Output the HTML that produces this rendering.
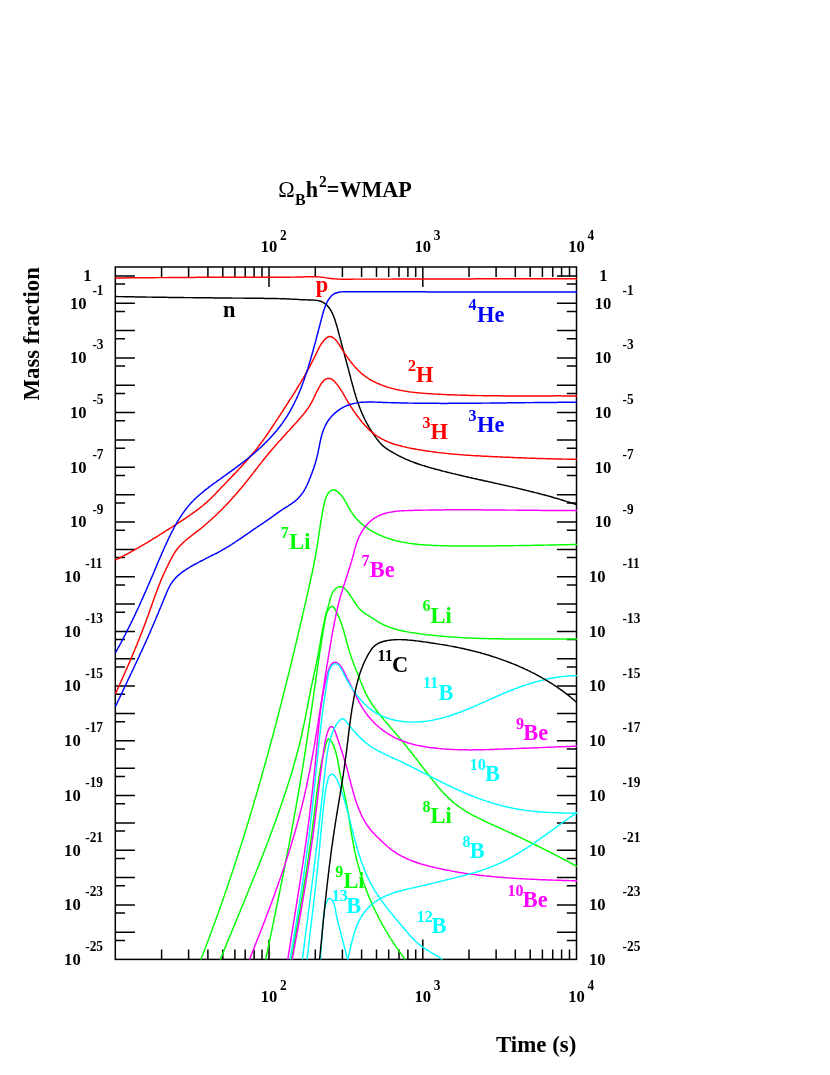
<!DOCTYPE html>
<html><head><meta charset="utf-8"><title>BBN</title>
<style>
html,body{margin:0;padding:0;background:#fff}
svg{display:block;will-change:transform}
text{font-family:"Liberation Serif",serif;font-weight:bold}
.c{fill:none;stroke-width:1.45;stroke-linejoin:round;stroke-linecap:butt}
.a{stroke:#000;stroke-width:1.5;fill:none;stroke-linecap:butt}
.l{font-size:22.4px}
.s{font-size:14.5px}
.t{font-size:16.4px}
.e{font-size:12.8px}
</style></head><body>
<svg width="830" height="1075" viewBox="0 0 830 1075">
<rect width="830" height="1075" fill="#fff"/>
<defs><clipPath id="cp"><rect x="114.55" y="266.25" width="462.7" height="693.9"/></clipPath></defs>
<path class="a" d="M161.6,267.0v10M161.6,959.4v-10M188.6,267.0v10M188.6,959.4v-10M207.9,267.0v10M207.9,959.4v-10M222.8,267.0v10M222.8,959.4v-10M234.9,267.0v10M234.9,959.4v-10M245.2,267.0v10M245.2,959.4v-10M254.1,267.0v10M254.1,959.4v-10M262.0,267.0v10M262.0,959.4v-10M269.0,267.0v20M269.0,959.4v-20M315.3,267.0v10M315.3,959.4v-10M342.4,267.0v10M342.4,959.4v-10M361.6,267.0v10M361.6,959.4v-10M376.5,267.0v10M376.5,959.4v-10M388.7,267.0v10M388.7,959.4v-10M399.0,267.0v10M399.0,959.4v-10M407.9,267.0v10M407.9,959.4v-10M415.7,267.0v10M415.7,959.4v-10M422.8,267.0v20M422.8,959.4v-20M469.0,267.0v10M469.0,959.4v-10M496.1,267.0v10M496.1,959.4v-10M515.3,267.0v10M515.3,959.4v-10M530.2,267.0v10M530.2,959.4v-10M542.4,267.0v10M542.4,959.4v-10M552.7,267.0v10M552.7,959.4v-10M561.6,267.0v10M561.6,959.4v-10M569.5,267.0v10M569.5,959.4v-10M115.3,275.9h19.6M576.5,275.9h-19.6M115.3,284.1h9.7M576.5,284.1h-9.7M115.3,303.2h19.6M576.5,303.2h-19.6M115.3,311.4h9.7M576.5,311.4h-9.7M115.3,330.6h19.6M576.5,330.6h-19.6M115.3,338.8h9.7M576.5,338.8h-9.7M115.3,357.9h19.6M576.5,357.9h-19.6M115.3,366.1h9.7M576.5,366.1h-9.7M115.3,385.2h19.6M576.5,385.2h-19.6M115.3,393.5h9.7M576.5,393.5h-9.7M115.3,412.6h19.6M576.5,412.6h-19.6M115.3,420.8h9.7M576.5,420.8h-9.7M115.3,440.0h19.6M576.5,440.0h-19.6M115.3,448.2h9.7M576.5,448.2h-9.7M115.3,467.3h19.6M576.5,467.3h-19.6M115.3,475.5h9.7M576.5,475.5h-9.7M115.3,494.7h19.6M576.5,494.7h-19.6M115.3,502.9h9.7M576.5,502.9h-9.7M115.3,522.0h19.6M576.5,522.0h-19.6M115.3,530.2h9.7M576.5,530.2h-9.7M115.3,549.4h19.6M576.5,549.4h-19.6M115.3,557.6h9.7M576.5,557.6h-9.7M115.3,576.7h19.6M576.5,576.7h-19.6M115.3,584.9h9.7M576.5,584.9h-9.7M115.3,604.1h19.6M576.5,604.1h-19.6M115.3,612.3h9.7M576.5,612.3h-9.7M115.3,631.4h19.6M576.5,631.4h-19.6M115.3,639.6h9.7M576.5,639.6h-9.7M115.3,658.8h19.6M576.5,658.8h-19.6M115.3,667.0h9.7M576.5,667.0h-9.7M115.3,686.1h19.6M576.5,686.1h-19.6M115.3,694.3h9.7M576.5,694.3h-9.7M115.3,713.5h19.6M576.5,713.5h-19.6M115.3,721.7h9.7M576.5,721.7h-9.7M115.3,740.8h19.6M576.5,740.8h-19.6M115.3,749.0h9.7M576.5,749.0h-9.7M115.3,768.2h19.6M576.5,768.2h-19.6M115.3,776.4h9.7M576.5,776.4h-9.7M115.3,795.5h19.6M576.5,795.5h-19.6M115.3,803.7h9.7M576.5,803.7h-9.7M115.3,822.9h19.6M576.5,822.9h-19.6M115.3,831.1h9.7M576.5,831.1h-9.7M115.3,850.2h19.6M576.5,850.2h-19.6M115.3,858.4h9.7M576.5,858.4h-9.7M115.3,877.6h19.6M576.5,877.6h-19.6M115.3,885.8h9.7M576.5,885.8h-9.7M115.3,904.9h19.6M576.5,904.9h-19.6M115.3,913.1h9.7M576.5,913.1h-9.7M115.3,932.3h19.6M576.5,932.3h-19.6M115.3,940.5h9.7M576.5,940.5h-9.7"/>
<rect class="a" x="115.3" y="267.0" width="461.2" height="692.4"/>
<g clip-path="url(#cp)">
<path class="c" stroke="#ff0000" d="M115.3,277.9 L116.8,277.9 L118.3,277.9 L119.8,277.9 L121.3,277.9 L122.8,277.9 L124.4,277.9 L125.9,277.9 L127.4,277.8 L128.9,277.8 L130.4,277.8 L131.9,277.8 L133.4,277.8 L134.9,277.8 L136.4,277.8 L137.9,277.8 L139.5,277.8 L141.0,277.8 L142.5,277.8 L144.0,277.7 L145.5,277.7 L147.0,277.7 L148.5,277.7 L150.0,277.7 L151.5,277.7 L153.0,277.7 L154.5,277.7 L156.1,277.6 L157.6,277.6 L159.1,277.6 L160.6,277.6 L162.1,277.6 L163.6,277.6 L165.1,277.6 L166.6,277.6 L168.1,277.5 L169.6,277.5 L171.1,277.5 L172.7,277.5 L174.2,277.5 L175.7,277.5 L177.2,277.5 L178.7,277.5 L180.2,277.5 L181.7,277.4 L183.2,277.4 L184.7,277.4 L186.2,277.4 L187.8,277.4 L189.3,277.4 L190.8,277.4 L192.3,277.4 L193.8,277.4 L195.3,277.4 L196.8,277.3 L198.3,277.3 L199.8,277.3 L201.3,277.3 L202.8,277.3 L204.4,277.3 L205.9,277.3 L207.4,277.3 L208.9,277.3 L210.4,277.3 L211.9,277.3 L213.4,277.3 L214.9,277.3 L216.4,277.3 L217.9,277.3 L219.4,277.3 L221.0,277.3 L222.5,277.3 L224.0,277.3 L225.5,277.3 L227.0,277.3 L228.5,277.3 L230.0,277.3 L231.5,277.3 L233.0,277.3 L234.5,277.3 L236.1,277.3 L237.6,277.3 L239.1,277.3 L240.6,277.3 L242.1,277.3 L243.6,277.3 L245.1,277.3 L246.6,277.3 L248.1,277.3 L249.6,277.3 L251.1,277.3 L252.7,277.3 L254.2,277.3 L255.7,277.3 L257.2,277.3 L258.7,277.3 L260.2,277.3 L261.7,277.3 L263.2,277.3 L264.7,277.3 L266.2,277.3 L267.7,277.3 L269.3,277.3 L270.8,277.3 L272.3,277.3 L273.8,277.3 L275.3,277.3 L276.8,277.3 L278.3,277.3 L279.8,277.2 L281.3,277.2 L282.8,277.2 L284.4,277.2 L285.9,277.2 L287.4,277.2 L288.9,277.2 L290.4,277.1 L291.9,277.1 L293.4,277.1 L294.9,277.1 L296.4,277.0 L297.9,277.0 L299.4,277.0 L301.0,276.9 L302.5,276.9 L304.0,276.9 L305.5,276.8 L307.0,276.8 L308.5,276.7 L310.0,276.7 L311.5,276.7 L313.0,276.7 L314.5,276.7 L316.0,276.7 L317.5,276.8 L319.0,276.9 L320.5,277.1 L322.0,277.2 L323.5,277.4 L325.0,277.6 L326.5,277.9 L328.0,278.1 L329.5,278.3 L331.0,278.5 L332.5,278.7 L334.0,278.8 L335.5,278.9 L337.0,279.0 L338.5,279.1 L340.0,279.1 L341.5,279.2 L343.0,279.2 L344.5,279.2 L346.1,279.2 L347.6,279.2 L349.1,279.2 L350.6,279.2 L352.1,279.2 L353.6,279.1 L355.1,279.1 L356.6,279.1 L358.1,279.1 L359.6,279.1 L361.2,279.1 L362.7,279.1 L364.2,279.1 L365.7,279.1 L367.2,279.1 L368.7,279.1 L370.2,279.1 L371.7,279.1 L373.2,279.1 L374.7,279.1 L376.2,279.1 L377.8,279.1 L379.3,279.1 L380.8,279.1 L382.3,279.1 L383.8,279.1 L385.3,279.1 L386.8,279.1 L388.3,279.1 L389.8,279.1 L391.3,279.1 L392.9,279.0 L394.4,279.0 L395.9,279.0 L397.4,279.0 L398.9,279.0 L400.4,279.0 L401.9,279.0 L403.4,279.0 L404.9,279.0 L406.4,279.0 L407.9,279.0 L409.5,279.0 L411.0,279.0 L412.5,279.0 L414.0,279.0 L415.5,279.0 L417.0,279.0 L418.5,279.0 L420.0,279.0 L421.5,279.0 L423.0,279.0 L424.5,279.0 L426.1,279.0 L427.6,279.0 L429.1,278.9 L430.6,278.9 L432.1,278.9 L433.6,278.9 L435.1,278.9 L436.6,278.9 L438.1,278.9 L439.6,278.9 L441.2,278.9 L442.7,278.9 L444.2,278.9 L445.7,278.9 L447.2,278.9 L448.7,278.9 L450.2,278.9 L451.7,278.9 L453.2,278.9 L454.7,278.9 L456.2,278.9 L457.8,278.9 L459.3,278.9 L460.8,278.9 L462.3,278.9 L463.8,278.9 L465.3,278.9 L466.8,278.9 L468.3,278.9 L469.8,278.9 L471.3,278.9 L472.9,278.9 L474.4,278.8 L475.9,278.8 L477.4,278.8 L478.9,278.8 L480.4,278.8 L481.9,278.8 L483.4,278.8 L484.9,278.8 L486.4,278.8 L487.9,278.8 L489.5,278.8 L491.0,278.8 L492.5,278.8 L494.0,278.8 L495.5,278.8 L497.0,278.8 L498.5,278.8 L500.0,278.8 L501.5,278.8 L503.0,278.8 L504.5,278.8 L506.1,278.8 L507.6,278.8 L509.1,278.8 L510.6,278.8 L512.1,278.8 L513.6,278.8 L515.1,278.8 L516.6,278.8 L518.1,278.8 L519.6,278.8 L521.2,278.8 L522.7,278.8 L524.2,278.8 L525.7,278.8 L527.2,278.8 L528.7,278.8 L530.2,278.8 L531.7,278.8 L533.2,278.8 L534.7,278.8 L536.2,278.8 L537.8,278.8 L539.3,278.8 L540.8,278.8 L542.3,278.8 L543.8,278.8 L545.3,278.8 L546.8,278.8 L548.3,278.7 L549.8,278.7 L551.3,278.7 L552.8,278.7 L554.4,278.7 L555.9,278.7 L557.4,278.7 L558.9,278.7 L560.4,278.7 L561.9,278.7 L563.4,278.7 L564.9,278.7 L566.4,278.7 L567.9,278.7 L569.5,278.7 L571.0,278.7 L572.5,278.7 L574.0,278.7 L575.5,278.7 L577.0,278.7"/>
<path class="c" stroke="#000000" d="M115.3,296.5 L116.8,296.5 L118.3,296.6 L119.8,296.6 L121.3,296.6 L122.8,296.6 L124.3,296.7 L125.8,296.7 L127.3,296.7 L128.8,296.8 L130.3,296.8 L131.8,296.8 L133.4,296.8 L134.9,296.9 L136.4,296.9 L137.9,296.9 L139.4,296.9 L140.9,297.0 L142.4,297.0 L143.9,297.0 L145.4,297.0 L146.9,297.1 L148.4,297.1 L149.9,297.1 L151.4,297.1 L152.9,297.2 L154.4,297.2 L155.9,297.2 L157.4,297.2 L158.9,297.2 L160.4,297.3 L161.9,297.3 L163.4,297.3 L164.9,297.3 L166.4,297.3 L167.9,297.4 L169.4,297.4 L171.0,297.4 L172.5,297.4 L174.0,297.4 L175.5,297.5 L177.0,297.5 L178.5,297.5 L180.0,297.5 L181.5,297.5 L183.0,297.5 L184.5,297.6 L186.0,297.6 L187.5,297.6 L189.0,297.6 L190.5,297.6 L192.0,297.6 L193.5,297.7 L195.0,297.7 L196.5,297.7 L198.0,297.7 L199.5,297.7 L201.0,297.7 L202.5,297.8 L204.0,297.8 L205.5,297.8 L207.0,297.8 L208.5,297.8 L210.1,297.8 L211.6,297.8 L213.1,297.9 L214.6,297.9 L216.1,297.9 L217.6,297.9 L219.1,297.9 L220.6,297.9 L222.1,298.0 L223.6,298.0 L225.1,298.0 L226.6,298.0 L228.1,298.0 L229.6,298.0 L231.1,298.0 L232.6,298.1 L234.1,298.1 L235.6,298.1 L237.1,298.1 L238.6,298.1 L240.1,298.1 L241.6,298.1 L243.1,298.1 L244.7,298.2 L246.2,298.2 L247.7,298.2 L249.2,298.2 L250.7,298.2 L252.2,298.2 L253.7,298.2 L255.2,298.3 L256.7,298.3 L258.2,298.3 L259.7,298.3 L261.2,298.3 L262.7,298.3 L264.2,298.4 L265.7,298.4 L267.2,298.4 L268.7,298.4 L270.2,298.4 L271.7,298.5 L273.2,298.5 L274.7,298.5 L276.2,298.5 L277.8,298.6 L279.3,298.6 L280.8,298.7 L282.3,298.7 L283.8,298.8 L285.3,298.8 L286.8,298.9 L288.3,298.9 L289.8,299.0 L291.3,299.1 L292.8,299.2 L294.2,299.3 L295.7,299.3 L297.2,299.4 L298.7,299.5 L300.2,299.6 L301.7,299.7 L303.3,299.8 L304.8,299.8 L306.3,299.9 L307.8,300.0 L309.3,300.0 L310.9,300.0 L312.4,300.0 L313.9,300.1 L315.4,300.2 L316.9,300.4 L318.4,300.6 L319.8,301.0 L321.2,301.5 L322.5,302.1 L323.8,302.9 L325.0,303.7 L326.2,304.6 L327.2,305.6 L328.2,306.7 L329.1,307.8 L330.0,309.0 L330.8,310.3 L331.5,311.6 L332.2,312.9 L332.8,314.3 L333.4,315.7 L334.0,317.2 L334.5,318.6 L335.0,320.1 L335.5,321.6 L335.9,323.0 L336.4,324.5 L336.8,325.9 L337.2,327.4 L337.6,328.8 L338.0,330.3 L338.4,331.7 L338.8,333.2 L339.2,334.6 L339.5,336.0 L339.9,337.5 L340.3,338.9 L340.7,340.4 L341.1,341.8 L341.4,343.3 L341.8,344.7 L342.2,346.2 L342.6,347.6 L343.0,349.1 L343.4,350.5 L343.8,352.0 L344.2,353.4 L344.5,354.9 L344.9,356.3 L345.3,357.8 L345.7,359.2 L346.1,360.7 L346.5,362.1 L346.9,363.6 L347.3,365.1 L347.7,366.5 L348.1,368.0 L348.5,369.4 L348.8,370.9 L349.2,372.3 L349.6,373.8 L350.0,375.3 L350.4,376.7 L350.7,378.2 L351.1,379.6 L351.5,381.1 L351.9,382.5 L352.3,384.0 L352.7,385.5 L353.1,386.9 L353.5,388.4 L353.9,389.8 L354.3,391.2 L354.7,392.7 L355.1,394.1 L355.6,395.6 L356.0,397.0 L356.5,398.4 L356.9,399.9 L357.4,401.3 L357.9,402.7 L358.4,404.1 L358.9,405.5 L359.4,406.9 L360.0,408.3 L360.5,409.7 L361.1,411.1 L361.7,412.5 L362.3,413.9 L362.9,415.2 L363.5,416.6 L364.2,418.0 L364.8,419.3 L365.5,420.7 L366.2,422.0 L366.9,423.3 L367.6,424.7 L368.4,426.0 L369.1,427.3 L369.9,428.6 L370.7,429.8 L371.5,431.1 L372.3,432.4 L373.1,433.6 L374.0,434.9 L374.8,436.1 L375.7,437.4 L376.6,438.6 L377.5,439.8 L378.5,441.0 L379.4,442.1 L380.4,443.3 L381.4,444.4 L382.5,445.4 L383.6,446.4 L384.7,447.3 L385.9,448.2 L387.2,449.1 L388.4,449.9 L389.7,450.7 L391.0,451.5 L392.3,452.2 L393.6,453.0 L394.9,453.7 L396.2,454.4 L397.6,455.1 L398.9,455.8 L400.3,456.5 L401.6,457.2 L403.0,457.8 L404.4,458.5 L405.7,459.1 L407.1,459.7 L408.5,460.3 L409.9,460.8 L411.3,461.4 L412.7,461.9 L414.1,462.5 L415.5,463.0 L416.9,463.5 L418.3,464.0 L419.8,464.5 L421.2,464.9 L422.6,465.4 L424.1,465.8 L425.5,466.3 L426.9,466.7 L428.4,467.1 L429.8,467.6 L431.3,468.0 L432.7,468.4 L434.2,468.8 L435.6,469.2 L437.1,469.5 L438.5,469.9 L440.0,470.3 L441.4,470.7 L442.9,471.1 L444.3,471.4 L445.8,471.8 L447.3,472.2 L448.7,472.5 L450.2,472.9 L451.6,473.2 L453.1,473.6 L454.6,473.9 L456.0,474.3 L457.5,474.6 L458.9,475.0 L460.4,475.3 L461.9,475.7 L463.3,476.0 L464.8,476.4 L466.3,476.7 L467.7,477.0 L469.2,477.4 L470.7,477.7 L472.1,478.0 L473.6,478.4 L475.1,478.7 L476.5,479.0 L478.0,479.4 L479.5,479.7 L480.9,480.0 L482.4,480.3 L483.9,480.7 L485.4,481.0 L486.8,481.3 L488.3,481.6 L489.8,482.0 L491.2,482.3 L492.7,482.6 L494.2,483.0 L495.6,483.3 L497.1,483.6 L498.6,483.9 L500.0,484.3 L501.5,484.6 L503.0,484.9 L504.4,485.3 L505.9,485.6 L507.4,485.9 L508.8,486.3 L510.3,486.6 L511.8,486.9 L513.2,487.3 L514.7,487.6 L516.2,487.9 L517.6,488.3 L519.1,488.6 L520.6,489.0 L522.0,489.3 L523.5,489.7 L525.0,490.0 L526.4,490.4 L527.9,490.7 L529.3,491.1 L530.8,491.5 L532.3,491.8 L533.7,492.2 L535.2,492.6 L536.6,492.9 L538.1,493.3 L539.5,493.7 L541.0,494.1 L542.4,494.5 L543.9,494.8 L545.4,495.2 L546.8,495.6 L548.3,496.0 L549.7,496.4 L551.1,496.8 L552.6,497.2 L554.0,497.7 L555.5,498.1 L556.9,498.5 L558.4,498.9 L559.8,499.4 L561.2,499.8 L562.7,500.2 L564.1,500.7 L565.6,501.1 L567.0,501.6 L568.4,502.0 L569.9,502.5 L571.3,503.0 L572.7,503.4 L574.1,503.9 L575.6,504.4 L577.0,504.9"/>
<path class="c" stroke="#ff0000" d="M115.4,560.1 L116.7,559.4 L118.1,558.7 L119.4,558.0 L120.8,557.3 L122.1,556.6 L123.5,555.9 L124.8,555.2 L126.1,554.5 L127.4,553.8 L128.8,553.1 L130.1,552.4 L131.4,551.6 L132.7,550.9 L134.0,550.2 L135.3,549.4 L136.7,548.7 L138.0,547.9 L139.3,547.2 L140.6,546.4 L141.9,545.7 L143.2,544.9 L144.5,544.1 L145.8,543.4 L147.1,542.6 L148.3,541.8 L149.6,541.1 L150.9,540.3 L152.2,539.5 L153.5,538.7 L154.8,537.9 L156.1,537.1 L157.3,536.3 L158.6,535.5 L159.9,534.7 L161.2,533.9 L162.4,533.1 L163.7,532.3 L165.0,531.5 L166.3,530.7 L167.5,529.9 L168.8,529.1 L170.1,528.3 L171.3,527.5 L172.6,526.6 L173.9,525.8 L175.1,525.0 L176.4,524.2 L177.7,523.4 L178.9,522.5 L180.2,521.7 L181.5,520.9 L182.7,520.1 L184.0,519.2 L185.3,518.4 L186.5,517.5 L187.8,516.7 L189.0,515.8 L190.2,515.0 L191.5,514.1 L192.7,513.2 L193.9,512.4 L195.2,511.5 L196.4,510.6 L197.6,509.7 L198.8,508.8 L200.0,507.8 L201.1,506.9 L202.3,506.0 L203.5,505.0 L204.6,504.0 L205.7,503.1 L206.9,502.1 L208.0,501.1 L209.1,500.0 L210.2,499.0 L211.3,498.0 L212.3,496.9 L213.4,495.8 L214.5,494.8 L215.5,493.7 L216.6,492.6 L217.6,491.5 L218.6,490.4 L219.7,489.3 L220.7,488.2 L221.8,487.1 L222.8,486.1 L223.9,485.0 L224.9,483.9 L225.9,482.8 L227.0,481.7 L228.0,480.6 L229.1,479.5 L230.1,478.4 L231.1,477.3 L232.2,476.2 L233.2,475.1 L234.3,474.1 L235.3,473.0 L236.3,471.9 L237.4,470.8 L238.4,469.7 L239.4,468.6 L240.5,467.5 L241.5,466.4 L242.5,465.2 L243.5,464.1 L244.5,463.0 L245.5,461.9 L246.5,460.8 L247.5,459.7 L248.5,458.5 L249.5,457.4 L250.5,456.2 L251.5,455.1 L252.4,454.0 L253.4,452.8 L254.4,451.6 L255.3,450.5 L256.3,449.3 L257.2,448.1 L258.1,446.9 L259.0,445.7 L259.9,444.5 L260.8,443.3 L261.7,442.1 L262.6,440.9 L263.5,439.7 L264.4,438.4 L265.3,437.2 L266.1,436.0 L267.0,434.7 L267.8,433.5 L268.7,432.2 L269.5,431.0 L270.4,429.7 L271.2,428.5 L272.1,427.2 L272.9,426.0 L273.7,424.7 L274.6,423.4 L275.4,422.2 L276.2,420.9 L277.0,419.6 L277.9,418.4 L278.7,417.1 L279.5,415.8 L280.3,414.6 L281.1,413.3 L282.0,412.1 L282.8,410.8 L283.6,409.5 L284.4,408.3 L285.3,407.0 L286.1,405.7 L286.9,404.5 L287.7,403.2 L288.5,402.0 L289.3,400.7 L290.1,399.4 L291.0,398.2 L291.8,396.9 L292.6,395.6 L293.4,394.4 L294.2,393.1 L295.0,391.8 L295.8,390.5 L296.5,389.3 L297.3,388.0 L298.1,386.7 L298.9,385.4 L299.7,384.1 L300.5,382.8 L301.2,381.5 L302.0,380.2 L302.8,379.0 L303.5,377.7 L304.3,376.3 L305.0,375.0 L305.8,373.7 L306.5,372.4 L307.2,371.1 L308.0,369.8 L308.7,368.4 L309.4,367.1 L310.1,365.8 L310.8,364.4 L311.5,363.1 L312.2,361.7 L312.9,360.4 L313.6,359.0 L314.3,357.7 L315.0,356.3 L315.6,354.9 L316.3,353.5 L316.9,352.2 L317.6,350.8 L318.3,349.4 L318.9,348.1 L319.6,346.7 L320.4,345.4 L321.1,344.2 L321.9,342.9 L322.8,341.8 L323.7,340.7 L324.6,339.6 L325.7,338.6 L326.8,337.7 L327.9,337.0 L329.2,336.5 L330.5,336.5 L331.8,337.0 L333.2,337.7 L334.4,338.7 L335.5,339.7 L336.5,340.9 L337.5,342.1 L338.3,343.3 L339.2,344.6 L340.0,345.9 L340.8,347.2 L341.6,348.5 L342.4,349.8 L343.2,351.0 L344.1,352.3 L344.9,353.6 L345.8,354.9 L346.6,356.1 L347.5,357.4 L348.4,358.6 L349.3,359.9 L350.2,361.1 L351.1,362.3 L352.1,363.5 L353.0,364.6 L354.0,365.8 L355.0,366.9 L356.0,368.0 L357.0,369.1 L358.0,370.2 L359.1,371.2 L360.2,372.2 L361.3,373.2 L362.4,374.2 L363.6,375.1 L364.8,376.0 L366.0,376.9 L367.2,377.7 L368.5,378.5 L369.7,379.3 L371.0,380.0 L372.3,380.8 L373.6,381.5 L375.0,382.1 L376.4,382.8 L377.7,383.4 L379.1,384.0 L380.5,384.6 L381.9,385.1 L383.4,385.7 L384.8,386.2 L386.2,386.7 L387.7,387.1 L389.1,387.6 L390.6,388.0 L392.1,388.4 L393.6,388.8 L395.0,389.1 L396.5,389.5 L398.0,389.8 L399.5,390.1 L401.0,390.4 L402.5,390.7 L403.9,390.9 L405.4,391.2 L406.9,391.4 L408.4,391.7 L409.9,391.9 L411.4,392.1 L412.9,392.2 L414.4,392.4 L415.9,392.6 L417.4,392.7 L418.9,392.9 L420.4,393.0 L421.9,393.1 L423.4,393.3 L424.9,393.4 L426.4,393.5 L427.9,393.6 L429.4,393.7 L430.9,393.8 L432.4,393.9 L433.9,394.0 L435.4,394.1 L436.9,394.1 L438.4,394.2 L439.9,394.3 L441.4,394.4 L442.9,394.5 L444.4,394.5 L445.9,394.6 L447.4,394.7 L448.9,394.7 L450.4,394.8 L451.9,394.8 L453.4,394.9 L454.9,395.0 L456.4,395.0 L457.9,395.1 L459.4,395.1 L460.9,395.2 L462.4,395.2 L463.9,395.3 L465.4,395.3 L467.0,395.3 L468.5,395.4 L470.0,395.4 L471.5,395.4 L473.0,395.5 L474.5,395.5 L476.0,395.5 L477.5,395.6 L479.0,395.6 L480.5,395.6 L482.0,395.6 L483.5,395.7 L485.0,395.7 L486.5,395.7 L488.0,395.7 L489.6,395.7 L491.1,395.8 L492.6,395.8 L494.1,395.8 L495.6,395.8 L497.1,395.8 L498.6,395.8 L500.1,395.8 L501.6,395.8 L503.1,395.9 L504.6,395.9 L506.1,395.9 L507.7,395.9 L509.2,395.9 L510.7,395.9 L512.2,395.9 L513.7,395.9 L515.2,395.9 L516.7,395.9 L518.2,395.9 L519.7,395.9 L521.2,395.9 L522.7,395.9 L524.3,395.9 L525.8,395.9 L527.3,395.9 L528.8,395.9 L530.3,395.9 L531.8,395.9 L533.3,395.9 L534.8,395.9 L536.3,395.9 L537.8,395.9 L539.3,395.9 L540.8,395.9 L542.4,395.9 L543.9,395.9 L545.4,395.9 L546.9,395.9 L548.4,395.9 L549.9,395.9 L551.4,395.9 L552.9,395.9 L554.4,395.8 L555.9,395.8 L557.4,395.8 L558.9,395.8 L560.4,395.8 L561.9,395.9 L563.5,395.9 L565.0,395.9 L566.5,395.9 L568.0,395.9 L569.5,395.9 L571.0,395.9 L572.5,395.9 L574.0,395.9 L575.5,395.9 L577.0,395.9"/>
<path class="c" stroke="#ff0000" d="M115.4,693.8 L116.0,692.4 L116.6,691.1 L117.3,689.7 L117.9,688.3 L118.5,687.0 L119.1,685.6 L119.8,684.2 L120.4,682.8 L121.0,681.5 L121.6,680.1 L122.2,678.7 L122.8,677.3 L123.5,676.0 L124.1,674.6 L124.7,673.2 L125.3,671.8 L125.9,670.5 L126.5,669.1 L127.1,667.7 L127.7,666.3 L128.3,665.0 L128.9,663.6 L129.5,662.2 L130.1,660.8 L130.7,659.4 L131.3,658.0 L131.9,656.7 L132.4,655.3 L133.0,653.9 L133.6,652.5 L134.2,651.1 L134.8,649.7 L135.4,648.3 L135.9,646.9 L136.5,645.6 L137.1,644.2 L137.6,642.8 L138.2,641.4 L138.8,640.0 L139.3,638.6 L139.9,637.2 L140.4,635.8 L141.0,634.4 L141.5,633.0 L142.1,631.6 L142.6,630.2 L143.1,628.8 L143.7,627.4 L144.2,626.0 L144.7,624.6 L145.3,623.1 L145.8,621.7 L146.3,620.3 L146.8,618.9 L147.3,617.5 L147.9,616.1 L148.4,614.7 L148.9,613.3 L149.4,611.8 L149.9,610.4 L150.4,609.0 L150.9,607.6 L151.4,606.2 L151.9,604.7 L152.4,603.3 L152.9,601.9 L153.4,600.5 L153.9,599.1 L154.4,597.6 L154.9,596.2 L155.4,594.8 L155.9,593.4 L156.4,592.0 L157.0,590.6 L157.5,589.2 L158.0,587.8 L158.6,586.4 L159.1,585.0 L159.7,583.6 L160.2,582.2 L160.8,580.8 L161.4,579.4 L162.0,578.0 L162.6,576.6 L163.2,575.2 L163.8,573.9 L164.4,572.5 L165.1,571.1 L165.7,569.8 L166.3,568.4 L167.0,567.1 L167.7,565.7 L168.3,564.4 L169.0,563.0 L169.7,561.7 L170.4,560.3 L171.1,559.0 L171.8,557.7 L172.5,556.3 L173.2,555.0 L174.0,553.7 L174.8,552.5 L175.6,551.2 L176.5,550.0 L177.4,548.8 L178.3,547.6 L179.3,546.5 L180.4,545.4 L181.4,544.4 L182.5,543.3 L183.6,542.3 L184.8,541.3 L185.9,540.3 L187.0,539.3 L188.2,538.3 L189.4,537.4 L190.6,536.5 L191.7,535.5 L192.9,534.6 L194.1,533.7 L195.3,532.8 L196.5,531.9 L197.7,530.9 L198.9,530.0 L200.1,529.1 L201.2,528.2 L202.4,527.2 L203.6,526.3 L204.7,525.3 L205.9,524.3 L207.0,523.3 L208.1,522.3 L209.3,521.3 L210.4,520.3 L211.5,519.3 L212.6,518.3 L213.7,517.3 L214.8,516.3 L215.9,515.2 L217.0,514.2 L218.1,513.1 L219.1,512.1 L220.2,511.0 L221.3,510.0 L222.3,508.9 L223.4,507.8 L224.4,506.7 L225.5,505.7 L226.5,504.6 L227.5,503.5 L228.6,502.4 L229.6,501.3 L230.6,500.2 L231.6,499.1 L232.6,497.9 L233.6,496.8 L234.6,495.7 L235.6,494.6 L236.6,493.4 L237.6,492.3 L238.6,491.1 L239.5,490.0 L240.5,488.8 L241.5,487.7 L242.4,486.5 L243.4,485.4 L244.4,484.2 L245.3,483.0 L246.2,481.9 L247.2,480.7 L248.1,479.5 L249.1,478.3 L250.0,477.1 L250.9,476.0 L251.8,474.8 L252.8,473.6 L253.7,472.4 L254.6,471.2 L255.5,470.0 L256.5,468.8 L257.4,467.6 L258.3,466.4 L259.2,465.3 L260.2,464.1 L261.1,462.9 L262.0,461.7 L263.0,460.5 L263.9,459.3 L264.8,458.2 L265.8,457.0 L266.7,455.8 L267.7,454.7 L268.6,453.5 L269.6,452.3 L270.6,451.2 L271.5,450.0 L272.5,448.9 L273.5,447.8 L274.5,446.6 L275.5,445.5 L276.4,444.4 L277.4,443.3 L278.4,442.1 L279.4,441.0 L280.5,439.9 L281.5,438.8 L282.5,437.7 L283.5,436.6 L284.5,435.5 L285.5,434.3 L286.5,433.2 L287.5,432.1 L288.6,431.0 L289.6,429.9 L290.6,428.8 L291.6,427.7 L292.6,426.6 L293.6,425.5 L294.6,424.3 L295.7,423.2 L296.7,422.1 L297.7,421.0 L298.7,419.8 L299.7,418.7 L300.7,417.6 L301.6,416.4 L302.6,415.3 L303.6,414.1 L304.5,412.9 L305.4,411.7 L306.3,410.5 L307.2,409.3 L308.1,408.1 L308.9,406.9 L309.7,405.6 L310.5,404.4 L311.2,403.1 L311.9,401.8 L312.6,400.4 L313.3,399.1 L313.9,397.8 L314.6,396.4 L315.2,395.0 L315.9,393.7 L316.5,392.3 L317.2,390.9 L317.9,389.5 L318.7,388.2 L319.4,386.8 L320.2,385.4 L321.0,384.0 L321.9,382.7 L322.9,381.5 L323.9,380.5 L325.0,379.6 L326.2,378.9 L327.4,378.5 L328.7,378.4 L329.9,378.5 L331.2,378.9 L332.4,379.6 L333.5,380.5 L334.6,381.5 L335.6,382.7 L336.6,383.9 L337.6,385.1 L338.5,386.3 L339.4,387.6 L340.2,388.9 L341.0,390.1 L341.8,391.4 L342.6,392.7 L343.4,394.1 L344.2,395.4 L344.9,396.7 L345.7,398.0 L346.4,399.3 L347.2,400.6 L347.9,401.9 L348.7,403.2 L349.5,404.5 L350.3,405.7 L351.1,407.0 L351.9,408.2 L352.7,409.5 L353.5,410.7 L354.4,411.9 L355.2,413.1 L356.1,414.3 L357.0,415.5 L357.9,416.7 L358.8,417.9 L359.7,419.1 L360.7,420.3 L361.6,421.5 L362.6,422.7 L363.6,423.8 L364.6,425.0 L365.6,426.1 L366.7,427.2 L367.7,428.3 L368.8,429.4 L369.9,430.4 L371.0,431.5 L372.2,432.4 L373.4,433.4 L374.5,434.3 L375.7,435.2 L377.0,436.0 L378.2,436.8 L379.5,437.6 L380.8,438.4 L382.1,439.1 L383.4,439.7 L384.7,440.4 L386.1,441.0 L387.4,441.6 L388.8,442.1 L390.2,442.7 L391.6,443.2 L393.0,443.7 L394.4,444.2 L395.8,444.6 L397.3,445.0 L398.7,445.4 L400.2,445.8 L401.7,446.2 L403.1,446.6 L404.6,446.9 L406.1,447.2 L407.5,447.6 L409.0,447.9 L410.5,448.2 L412.0,448.5 L413.5,448.7 L415.0,449.0 L416.5,449.3 L417.9,449.6 L419.4,449.8 L420.9,450.1 L422.4,450.3 L423.9,450.5 L425.4,450.8 L426.9,451.0 L428.4,451.2 L429.9,451.4 L431.4,451.6 L432.8,451.8 L434.3,452.0 L435.8,452.2 L437.3,452.4 L438.8,452.6 L440.3,452.8 L441.8,452.9 L443.3,453.1 L444.8,453.3 L446.3,453.4 L447.8,453.6 L449.3,453.7 L450.8,453.9 L452.3,454.0 L453.8,454.1 L455.3,454.3 L456.8,454.4 L458.3,454.5 L459.8,454.6 L461.3,454.8 L462.8,454.9 L464.3,455.0 L465.8,455.1 L467.3,455.2 L468.8,455.3 L470.3,455.4 L471.8,455.5 L473.3,455.6 L474.8,455.7 L476.3,455.8 L477.8,455.8 L479.3,455.9 L480.8,456.0 L482.3,456.1 L483.8,456.2 L485.3,456.2 L486.8,456.3 L488.3,456.4 L489.8,456.5 L491.3,456.5 L492.8,456.6 L494.3,456.7 L495.8,456.7 L497.3,456.8 L498.8,456.9 L500.3,457.0 L501.8,457.0 L503.3,457.1 L504.8,457.2 L506.3,457.2 L507.8,457.3 L509.3,457.3 L510.8,457.4 L512.3,457.5 L513.8,457.5 L515.3,457.6 L516.8,457.7 L518.3,457.7 L519.8,457.8 L521.3,457.8 L522.9,457.9 L524.4,457.9 L525.9,458.0 L527.4,458.1 L528.9,458.1 L530.4,458.2 L531.9,458.2 L533.4,458.3 L534.9,458.3 L536.4,458.4 L537.9,458.4 L539.4,458.5 L540.9,458.5 L542.4,458.5 L543.9,458.6 L545.4,458.6 L546.9,458.7 L548.4,458.7 L549.9,458.8 L551.4,458.8 L552.9,458.8 L554.4,458.9 L555.9,458.9 L557.5,458.9 L559.0,459.0 L560.5,459.0 L562.0,459.0 L563.5,459.1 L565.0,459.1 L566.5,459.1 L568.0,459.2 L569.5,459.2 L571.0,459.2 L572.5,459.2 L574.0,459.3 L575.5,459.3 L577.0,459.3"/>
<path class="c" stroke="#0000ff" d="M115.4,706.7 L116.0,705.3 L116.7,704.0 L117.3,702.6 L117.9,701.3 L118.6,699.9 L119.2,698.5 L119.9,697.2 L120.5,695.8 L121.1,694.4 L121.8,693.1 L122.4,691.7 L123.1,690.4 L123.7,689.0 L124.4,687.6 L125.0,686.3 L125.7,684.9 L126.3,683.6 L127.0,682.2 L127.6,680.8 L128.2,679.5 L128.9,678.1 L129.5,676.7 L130.2,675.4 L130.8,674.0 L131.5,672.6 L132.1,671.3 L132.8,669.9 L133.4,668.6 L134.1,667.2 L134.7,665.8 L135.3,664.5 L136.0,663.1 L136.6,661.7 L137.3,660.4 L137.9,659.0 L138.5,657.6 L139.2,656.3 L139.8,654.9 L140.4,653.5 L141.1,652.2 L141.7,650.8 L142.3,649.4 L143.0,648.1 L143.6,646.7 L144.2,645.3 L144.8,643.9 L145.5,642.6 L146.1,641.2 L146.7,639.8 L147.3,638.5 L147.9,637.1 L148.5,635.7 L149.1,634.3 L149.7,633.0 L150.3,631.6 L150.9,630.2 L151.5,628.8 L152.1,627.5 L152.7,626.1 L153.3,624.7 L153.9,623.3 L154.5,621.9 L155.1,620.6 L155.7,619.2 L156.2,617.8 L156.8,616.4 L157.4,615.0 L158.0,613.6 L158.6,612.2 L159.1,610.8 L159.7,609.4 L160.3,608.0 L160.9,606.6 L161.4,605.2 L162.0,603.8 L162.6,602.4 L163.2,601.0 L163.7,599.6 L164.3,598.2 L164.9,596.8 L165.5,595.4 L166.0,594.0 L166.6,592.5 L167.3,591.1 L167.9,589.8 L168.5,588.4 L169.2,587.1 L169.9,585.7 L170.7,584.4 L171.5,583.2 L172.3,582.0 L173.2,580.8 L174.1,579.6 L175.1,578.5 L176.1,577.4 L177.2,576.4 L178.3,575.4 L179.4,574.4 L180.5,573.5 L181.7,572.6 L182.9,571.7 L184.2,570.8 L185.4,570.0 L186.7,569.1 L188.0,568.3 L189.3,567.5 L190.6,566.7 L191.9,566.0 L193.2,565.2 L194.5,564.5 L195.8,563.8 L197.1,563.1 L198.5,562.3 L199.8,561.7 L201.1,561.0 L202.5,560.3 L203.8,559.6 L205.2,558.9 L206.5,558.2 L207.9,557.6 L209.2,556.9 L210.6,556.2 L211.9,555.5 L213.2,554.8 L214.6,554.2 L215.9,553.5 L217.3,552.8 L218.6,552.1 L219.9,551.4 L221.2,550.6 L222.5,549.9 L223.8,549.2 L225.2,548.4 L226.4,547.6 L227.7,546.9 L229.0,546.1 L230.3,545.3 L231.6,544.5 L232.8,543.6 L234.1,542.8 L235.4,542.0 L236.6,541.2 L237.9,540.3 L239.1,539.5 L240.4,538.6 L241.6,537.8 L242.9,536.9 L244.1,536.1 L245.3,535.2 L246.6,534.4 L247.8,533.5 L249.1,532.6 L250.3,531.8 L251.5,530.9 L252.8,530.1 L254.0,529.2 L255.3,528.4 L256.5,527.5 L257.8,526.7 L259.0,525.8 L260.3,525.0 L261.5,524.2 L262.8,523.3 L264.0,522.5 L265.3,521.6 L266.5,520.8 L267.7,519.9 L269.0,519.1 L270.2,518.2 L271.4,517.4 L272.6,516.5 L273.9,515.6 L275.1,514.7 L276.3,513.8 L277.5,512.9 L278.7,512.1 L280.0,511.2 L281.2,510.3 L282.5,509.5 L283.7,508.7 L285.0,507.9 L286.3,507.1 L287.6,506.3 L288.8,505.5 L290.1,504.6 L291.4,503.8 L292.6,502.9 L293.8,502.1 L295.0,501.2 L296.1,500.2 L297.2,499.2 L298.3,498.2 L299.3,497.1 L300.3,496.0 L301.2,494.8 L302.1,493.6 L303.0,492.4 L303.8,491.1 L304.5,489.9 L305.3,488.5 L306.0,487.2 L306.7,485.8 L307.3,484.5 L307.9,483.1 L308.5,481.7 L309.1,480.3 L309.7,478.8 L310.3,477.4 L310.8,476.0 L311.3,474.6 L311.9,473.2 L312.4,471.8 L312.9,470.3 L313.4,468.9 L313.9,467.5 L314.4,466.1 L314.8,464.7 L315.3,463.3 L315.7,461.8 L316.1,460.4 L316.5,459.0 L316.9,457.5 L317.2,456.1 L317.6,454.6 L317.9,453.1 L318.2,451.6 L318.5,450.2 L318.8,448.7 L319.1,447.2 L319.4,445.7 L319.7,444.2 L320.0,442.7 L320.3,441.2 L320.6,439.8 L321.0,438.3 L321.3,436.8 L321.7,435.4 L322.1,433.9 L322.6,432.5 L323.1,431.1 L323.6,429.7 L324.1,428.3 L324.7,427.0 L325.3,425.6 L326.0,424.3 L326.7,423.0 L327.5,421.7 L328.3,420.5 L329.2,419.3 L330.1,418.1 L331.1,416.9 L332.1,415.8 L333.2,414.7 L334.3,413.6 L335.5,412.6 L336.7,411.6 L337.9,410.7 L339.2,409.8 L340.5,408.9 L341.8,408.1 L343.1,407.4 L344.5,406.7 L345.8,406.1 L347.2,405.5 L348.6,405.0 L350.0,404.5 L351.4,404.1 L352.8,403.7 L354.3,403.4 L355.7,403.1 L357.2,402.8 L358.6,402.6 L360.1,402.4 L361.6,402.3 L363.1,402.2 L364.6,402.1 L366.0,402.0 L367.5,402.0 L369.1,402.0 L370.6,402.0 L372.1,402.0 L373.6,402.0 L375.1,402.1 L376.6,402.1 L378.1,402.2 L379.7,402.2 L381.2,402.3 L382.7,402.4 L384.2,402.4 L385.7,402.5 L387.2,402.5 L388.8,402.6 L390.3,402.6 L391.8,402.7 L393.3,402.7 L394.8,402.8 L396.3,402.8 L397.8,402.8 L399.3,402.9 L400.8,402.9 L402.3,403.0 L403.8,403.0 L405.3,403.0 L406.8,403.0 L408.3,403.1 L409.9,403.1 L411.4,403.1 L412.9,403.1 L414.4,403.2 L415.9,403.2 L417.4,403.2 L418.9,403.2 L420.4,403.2 L421.9,403.3 L423.4,403.3 L424.9,403.3 L426.4,403.3 L427.9,403.3 L429.4,403.3 L430.9,403.3 L432.4,403.3 L433.9,403.3 L435.4,403.3 L436.9,403.3 L438.4,403.3 L439.9,403.4 L441.4,403.4 L442.9,403.4 L444.4,403.4 L445.9,403.4 L447.4,403.4 L448.9,403.3 L450.5,403.3 L452.0,403.3 L453.5,403.3 L455.0,403.3 L456.5,403.3 L458.0,403.3 L459.5,403.3 L461.0,403.3 L462.5,403.3 L464.0,403.3 L465.5,403.3 L467.0,403.3 L468.5,403.3 L470.0,403.2 L471.5,403.2 L473.0,403.2 L474.6,403.2 L476.1,403.2 L477.6,403.2 L479.1,403.2 L480.6,403.2 L482.1,403.1 L483.6,403.1 L485.1,403.1 L486.6,403.1 L488.1,403.1 L489.6,403.1 L491.1,403.0 L492.6,403.0 L494.1,403.0 L495.7,403.0 L497.2,403.0 L498.7,403.0 L500.2,402.9 L501.7,402.9 L503.2,402.9 L504.7,402.9 L506.2,402.9 L507.7,402.8 L509.2,402.8 L510.7,402.8 L512.2,402.8 L513.7,402.8 L515.2,402.8 L516.8,402.7 L518.3,402.7 L519.8,402.7 L521.3,402.7 L522.8,402.7 L524.3,402.7 L525.8,402.6 L527.3,402.6 L528.8,402.6 L530.3,402.6 L531.8,402.6 L533.3,402.6 L534.8,402.5 L536.3,402.5 L537.9,402.5 L539.4,402.5 L540.9,402.5 L542.4,402.5 L543.9,402.5 L545.4,402.4 L546.9,402.4 L548.4,402.4 L549.9,402.4 L551.4,402.4 L552.9,402.4 L554.4,402.4 L555.9,402.4 L557.4,402.4 L558.9,402.3 L560.4,402.3 L561.9,402.3 L563.5,402.3 L565.0,402.3 L566.5,402.3 L568.0,402.3 L569.5,402.3 L571.0,402.3 L572.5,402.3 L574.0,402.3 L575.5,402.3 L577.0,402.3"/>
<path class="c" stroke="#0000ff" d="M115.4,652.8 L116.1,651.5 L116.9,650.2 L117.6,648.9 L118.3,647.5 L119.1,646.2 L119.8,644.9 L120.5,643.6 L121.2,642.3 L121.9,640.9 L122.6,639.6 L123.3,638.3 L124.0,636.9 L124.7,635.6 L125.4,634.3 L126.1,632.9 L126.8,631.6 L127.4,630.2 L128.1,628.9 L128.8,627.5 L129.5,626.2 L130.1,624.9 L130.8,623.5 L131.4,622.1 L132.1,620.8 L132.8,619.4 L133.4,618.1 L134.1,616.7 L134.7,615.4 L135.4,614.0 L136.0,612.6 L136.6,611.3 L137.3,609.9 L137.9,608.5 L138.5,607.2 L139.2,605.8 L139.8,604.4 L140.4,603.1 L141.0,601.7 L141.7,600.3 L142.3,598.9 L142.9,597.6 L143.5,596.2 L144.1,594.8 L144.7,593.4 L145.3,592.1 L145.9,590.7 L146.5,589.3 L147.1,587.9 L147.7,586.5 L148.3,585.2 L148.9,583.8 L149.5,582.4 L150.1,581.0 L150.7,579.6 L151.3,578.2 L151.9,576.9 L152.5,575.5 L153.1,574.1 L153.6,572.7 L154.2,571.3 L154.8,569.9 L155.4,568.6 L156.0,567.2 L156.6,565.8 L157.1,564.4 L157.7,563.0 L158.3,561.6 L158.9,560.2 L159.5,558.9 L160.1,557.5 L160.7,556.1 L161.3,554.7 L161.9,553.3 L162.5,552.0 L163.1,550.6 L163.7,549.2 L164.3,547.8 L164.9,546.5 L165.6,545.1 L166.2,543.7 L166.8,542.4 L167.5,541.0 L168.1,539.6 L168.7,538.3 L169.4,536.9 L170.1,535.6 L170.7,534.2 L171.4,532.9 L172.1,531.5 L172.8,530.2 L173.5,528.8 L174.2,527.5 L174.9,526.2 L175.7,524.9 L176.4,523.5 L177.2,522.2 L177.9,520.9 L178.7,519.7 L179.5,518.4 L180.3,517.1 L181.1,515.9 L182.0,514.6 L182.8,513.4 L183.7,512.1 L184.6,510.9 L185.5,509.7 L186.4,508.5 L187.3,507.4 L188.3,506.2 L189.2,505.1 L190.2,503.9 L191.2,502.8 L192.2,501.7 L193.3,500.7 L194.3,499.6 L195.4,498.5 L196.5,497.5 L197.6,496.5 L198.7,495.5 L199.9,494.5 L201.0,493.5 L202.2,492.6 L203.4,491.6 L204.5,490.6 L205.7,489.7 L206.9,488.8 L208.1,487.9 L209.3,486.9 L210.5,486.0 L211.7,485.1 L212.9,484.2 L214.1,483.4 L215.4,482.5 L216.6,481.6 L217.8,480.7 L219.0,479.8 L220.2,479.0 L221.4,478.1 L222.7,477.2 L223.9,476.3 L225.1,475.5 L226.3,474.6 L227.6,473.7 L228.8,472.8 L230.0,471.9 L231.2,471.1 L232.4,470.2 L233.6,469.3 L234.9,468.4 L236.1,467.5 L237.3,466.6 L238.5,465.7 L239.7,464.8 L240.9,463.9 L242.1,463.0 L243.3,462.0 L244.5,461.1 L245.6,460.2 L246.8,459.3 L248.0,458.3 L249.2,457.4 L250.3,456.4 L251.5,455.4 L252.7,454.5 L253.8,453.5 L254.9,452.5 L256.1,451.5 L257.2,450.5 L258.3,449.5 L259.4,448.5 L260.6,447.5 L261.7,446.5 L262.7,445.4 L263.8,444.4 L264.9,443.3 L266.0,442.3 L267.0,441.2 L268.1,440.1 L269.1,439.0 L270.2,437.9 L271.2,436.8 L272.2,435.7 L273.2,434.6 L274.2,433.5 L275.1,432.3 L276.1,431.2 L277.1,430.0 L278.0,428.8 L278.9,427.7 L279.9,426.5 L280.8,425.3 L281.7,424.1 L282.6,422.8 L283.4,421.6 L284.3,420.4 L285.1,419.1 L285.9,417.9 L286.8,416.6 L287.6,415.4 L288.3,414.1 L289.1,412.8 L289.9,411.5 L290.6,410.2 L291.3,408.9 L292.0,407.6 L292.8,406.2 L293.4,404.9 L294.1,403.5 L294.8,402.2 L295.4,400.8 L296.1,399.5 L296.7,398.1 L297.3,396.7 L298.0,395.3 L298.6,394.0 L299.1,392.6 L299.7,391.2 L300.3,389.8 L300.9,388.4 L301.4,387.0 L302.0,385.6 L302.5,384.1 L303.0,382.7 L303.5,381.3 L304.0,379.9 L304.5,378.5 L305.0,377.0 L305.5,375.6 L306.0,374.2 L306.5,372.8 L306.9,371.3 L307.4,369.9 L307.9,368.5 L308.3,367.0 L308.7,365.6 L309.2,364.1 L309.6,362.7 L310.0,361.3 L310.5,359.8 L310.9,358.4 L311.3,356.9 L311.7,355.5 L312.1,354.0 L312.5,352.6 L312.9,351.2 L313.3,349.7 L313.7,348.3 L314.1,346.8 L314.5,345.4 L314.9,343.9 L315.3,342.5 L315.7,341.0 L316.0,339.6 L316.4,338.1 L316.8,336.7 L317.2,335.2 L317.6,333.8 L318.0,332.3 L318.3,330.9 L318.7,329.4 L319.1,328.0 L319.5,326.5 L319.9,325.1 L320.2,323.6 L320.6,322.1 L321.0,320.7 L321.4,319.2 L321.8,317.7 L322.2,316.2 L322.6,314.8 L323.0,313.3 L323.4,311.8 L323.8,310.3 L324.3,308.9 L324.8,307.5 L325.3,306.1 L325.9,304.7 L326.5,303.3 L327.2,302.0 L327.9,300.7 L328.6,299.4 L329.5,298.2 L330.4,297.1 L331.3,296.0 L332.4,295.0 L333.5,294.2 L334.8,293.5 L336.1,293.0 L337.6,292.5 L339.0,292.2 L340.5,292.0 L342.0,291.9 L343.5,291.8 L345.1,291.8 L346.6,291.8 L348.2,291.8 L349.7,291.8 L351.3,291.8 L352.8,291.8 L354.3,291.8 L355.8,291.8 L357.3,291.8 L358.8,291.8 L360.3,291.8 L361.8,291.8 L363.3,291.8 L364.8,291.8 L366.3,291.8 L367.8,291.8 L369.3,291.8 L370.8,291.8 L372.3,291.8 L373.8,291.8 L375.3,291.8 L376.8,291.8 L378.3,291.8 L379.8,291.8 L381.3,291.8 L382.8,291.8 L384.3,291.8 L385.8,291.8 L387.3,291.8 L388.8,291.8 L390.3,291.8 L391.8,291.8 L393.4,291.8 L394.9,291.8 L396.4,291.8 L397.9,291.8 L399.4,291.8 L400.9,291.8 L402.4,291.8 L403.9,291.8 L405.4,291.8 L406.9,291.8 L408.4,291.8 L409.9,291.8 L411.4,291.8 L412.9,291.8 L414.4,291.8 L415.9,291.8 L417.5,291.8 L419.0,291.8 L420.5,291.8 L422.0,291.8 L423.5,291.8 L425.0,291.8 L426.5,291.9 L428.0,291.9 L429.5,291.9 L431.0,291.9 L432.5,291.9 L434.0,291.9 L435.5,291.9 L437.0,291.9 L438.5,291.9 L440.0,291.9 L441.5,291.9 L443.1,291.9 L444.6,291.9 L446.1,291.9 L447.6,291.9 L449.1,291.9 L450.6,291.9 L452.1,291.9 L453.6,291.9 L455.1,291.9 L456.6,291.9 L458.1,291.9 L459.6,291.9 L461.1,291.9 L462.6,291.9 L464.1,291.9 L465.6,291.9 L467.1,291.9 L468.6,291.9 L470.1,291.9 L471.6,291.9 L473.2,291.9 L474.7,291.9 L476.2,291.9 L477.7,291.9 L479.2,291.9 L480.7,291.9 L482.2,291.9 L483.7,291.9 L485.2,291.9 L486.7,291.9 L488.2,291.9 L489.7,291.9 L491.2,291.9 L492.7,291.9 L494.2,291.9 L495.7,291.9 L497.2,291.9 L498.7,291.9 L500.2,291.9 L501.7,291.9 L503.2,291.9 L504.8,291.9 L506.3,291.9 L507.8,291.9 L509.3,291.9 L510.8,291.9 L512.3,291.9 L513.8,291.9 L515.3,291.9 L516.8,291.9 L518.3,291.9 L519.8,291.9 L521.3,291.9 L522.8,291.9 L524.3,291.9 L525.8,291.9 L527.3,291.9 L528.8,291.9 L530.3,292.0 L531.8,292.0 L533.3,292.0 L534.9,292.0 L536.4,292.0 L537.9,292.0 L539.4,292.0 L540.9,292.0 L542.4,292.0 L543.9,292.0 L545.4,292.0 L546.9,292.0 L548.4,292.0 L549.9,292.0 L551.4,292.0 L552.9,292.0 L554.4,292.0 L555.9,292.0 L557.4,292.0 L558.9,292.0 L560.4,292.0 L561.9,292.0 L563.4,292.0 L565.0,292.0 L566.5,292.0 L568.0,292.0 L569.5,292.0 L571.0,292.0 L572.5,292.0 L574.0,292.0 L575.5,292.0 L577.0,292.0"/>
<path class="c" stroke="#00ff00" d="M220.4,959.4 L220.9,958.0 L221.5,956.6 L222.1,955.2 L222.6,953.8 L223.2,952.4 L223.8,951.0 L224.3,949.7 L224.9,948.3 L225.5,946.9 L226.0,945.5 L226.6,944.1 L227.2,942.7 L227.7,941.3 L228.3,939.9 L228.9,938.5 L229.5,937.1 L230.0,935.7 L230.6,934.4 L231.2,933.0 L231.7,931.6 L232.3,930.2 L232.9,928.8 L233.5,927.4 L234.0,926.0 L234.6,924.6 L235.2,923.2 L235.8,921.8 L236.3,920.4 L236.9,919.1 L237.5,917.7 L238.0,916.3 L238.6,914.9 L239.2,913.5 L239.8,912.1 L240.3,910.7 L240.9,909.3 L241.5,907.9 L242.0,906.5 L242.6,905.1 L243.2,903.8 L243.8,902.4 L244.3,901.0 L244.9,899.6 L245.5,898.2 L246.0,896.8 L246.6,895.4 L247.2,894.0 L247.7,892.6 L248.3,891.2 L248.9,889.8 L249.4,888.4 L250.0,887.0 L250.6,885.6 L251.1,884.2 L251.7,882.9 L252.3,881.5 L252.8,880.1 L253.4,878.7 L253.9,877.3 L254.5,875.9 L255.1,874.5 L255.6,873.1 L256.2,871.7 L256.7,870.3 L257.3,868.9 L257.8,867.5 L258.4,866.1 L259.0,864.7 L259.5,863.3 L260.1,861.9 L260.6,860.5 L261.2,859.1 L261.7,857.7 L262.3,856.3 L262.8,854.9 L263.3,853.5 L263.9,852.1 L264.4,850.7 L265.0,849.3 L265.5,847.9 L266.1,846.5 L266.6,845.1 L267.1,843.7 L267.7,842.3 L268.2,840.9 L268.7,839.5 L269.3,838.0 L269.8,836.6 L270.3,835.2 L270.8,833.8 L271.4,832.4 L271.9,831.0 L272.4,829.6 L272.9,828.2 L273.4,826.8 L274.0,825.4 L274.5,823.9 L275.0,822.5 L275.5,821.1 L276.0,819.7 L276.5,818.3 L277.0,816.9 L277.5,815.5 L278.0,814.0 L278.5,812.6 L279.0,811.2 L279.5,809.8 L280.0,808.4 L280.5,807.0 L281.0,805.5 L281.5,804.1 L282.0,802.7 L282.5,801.3 L283.0,799.8 L283.5,798.4 L283.9,797.0 L284.4,795.6 L284.9,794.1 L285.4,792.7 L285.8,791.3 L286.3,789.9 L286.8,788.4 L287.2,787.0 L287.7,785.6 L288.1,784.1 L288.6,782.7 L289.1,781.3 L289.5,779.8 L289.9,778.4 L290.4,777.0 L290.8,775.5 L291.3,774.1 L291.7,772.6 L292.1,771.2 L292.6,769.8 L293.0,768.3 L293.4,766.9 L293.8,765.4 L294.2,764.0 L294.6,762.5 L295.0,761.1 L295.4,759.6 L295.8,758.2 L296.2,756.7 L296.6,755.3 L297.0,753.8 L297.4,752.4 L297.8,750.9 L298.2,749.5 L298.5,748.0 L298.9,746.6 L299.3,745.1 L299.6,743.6 L300.0,742.2 L300.3,740.7 L300.7,739.3 L301.0,737.8 L301.3,736.3 L301.7,734.9 L302.0,733.4 L302.3,731.9 L302.6,730.5 L303.0,729.0 L303.3,727.5 L303.6,726.0 L303.9,724.6 L304.2,723.1 L304.5,721.6 L304.8,720.1 L305.1,718.7 L305.4,717.2 L305.7,715.7 L306.0,714.2 L306.2,712.8 L306.5,711.3 L306.8,709.8 L307.1,708.3 L307.4,706.8 L307.7,705.4 L308.0,703.9 L308.3,702.4 L308.6,700.9 L308.8,699.5 L309.1,698.0 L309.4,696.5 L309.7,695.0 L310.0,693.6 L310.3,692.1 L310.6,690.6 L310.9,689.1 L311.2,687.7 L311.5,686.2 L311.8,684.7 L312.1,683.3 L312.4,681.8 L312.8,680.3 L313.1,678.8 L313.4,677.4 L313.7,675.9 L314.0,674.4 L314.3,673.0 L314.6,671.5 L315.0,670.0 L315.3,668.6 L315.6,667.1 L315.9,665.6 L316.2,664.2 L316.5,662.7 L316.8,661.2 L317.1,659.7 L317.4,658.3 L317.7,656.8 L318.0,655.3 L318.2,653.8 L318.5,652.4 L318.8,650.9 L319.1,649.4 L319.3,647.9 L319.6,646.4 L319.9,644.9 L320.1,643.4 L320.4,642.0 L320.6,640.5 L320.9,639.0 L321.1,637.5 L321.4,636.0 L321.7,634.5 L321.9,633.0 L322.2,631.6 L322.5,630.1 L322.8,628.6 L323.0,627.1 L323.3,625.7 L323.6,624.2 L324.0,622.7 L324.3,621.3 L324.6,619.8 L324.9,618.4 L325.3,616.9 L325.7,615.5 L326.0,614.0 L326.4,612.6 L326.8,611.2 L327.2,609.7 L327.7,608.3 L328.1,606.9 L328.5,605.4 L329.0,604.0 L329.4,602.5 L329.8,601.0 L330.2,599.5 L330.6,597.9 L331.1,596.4 L331.6,595.0 L332.2,593.5 L332.9,592.2 L333.8,590.9 L334.7,589.7 L335.7,588.7 L336.8,587.8 L338.0,587.2 L339.2,586.7 L340.4,586.6 L341.6,586.8 L342.7,587.2 L343.9,587.9 L345.0,588.8 L346.0,589.9 L347.1,591.1 L348.1,592.4 L349.0,593.7 L349.9,595.0 L350.8,596.3 L351.7,597.6 L352.5,598.9 L353.3,600.2 L354.1,601.5 L354.9,602.8 L355.8,604.0 L356.6,605.2 L357.5,606.4 L358.4,607.5 L359.3,608.6 L360.4,609.7 L361.4,610.7 L362.6,611.6 L363.7,612.5 L365.0,613.3 L366.2,614.2 L367.5,615.0 L368.8,615.8 L370.1,616.6 L371.4,617.5 L372.7,618.3 L374.0,619.2 L375.3,620.0 L376.5,620.8 L377.8,621.6 L379.1,622.4 L380.5,623.1 L381.8,623.8 L383.1,624.5 L384.5,625.2 L385.9,625.8 L387.2,626.3 L388.6,626.9 L390.0,627.4 L391.4,627.9 L392.8,628.4 L394.3,628.8 L395.7,629.2 L397.1,629.6 L398.6,630.0 L400.0,630.3 L401.5,630.7 L403.0,631.0 L404.4,631.3 L405.9,631.6 L407.4,631.9 L408.9,632.1 L410.4,632.4 L411.8,632.6 L413.3,632.8 L414.8,633.1 L416.3,633.3 L417.8,633.5 L419.3,633.7 L420.8,633.9 L422.3,634.1 L423.8,634.3 L425.3,634.5 L426.8,634.6 L428.3,634.8 L429.8,635.0 L431.3,635.1 L432.8,635.3 L434.3,635.5 L435.8,635.6 L437.2,635.8 L438.7,635.9 L440.2,636.0 L441.7,636.2 L443.2,636.3 L444.7,636.4 L446.2,636.6 L447.7,636.7 L449.2,636.8 L450.7,636.9 L452.2,637.0 L453.7,637.1 L455.2,637.2 L456.7,637.3 L458.2,637.4 L459.7,637.5 L461.2,637.6 L462.7,637.7 L464.2,637.7 L465.7,637.8 L467.2,637.9 L468.7,638.0 L470.2,638.0 L471.7,638.1 L473.2,638.2 L474.7,638.2 L476.2,638.3 L477.7,638.3 L479.3,638.4 L480.8,638.4 L482.3,638.5 L483.8,638.5 L485.3,638.5 L486.8,638.6 L488.3,638.6 L489.8,638.7 L491.3,638.7 L492.8,638.7 L494.3,638.7 L495.8,638.8 L497.3,638.8 L498.8,638.8 L500.3,638.8 L501.8,638.9 L503.3,638.9 L504.8,638.9 L506.3,638.9 L507.8,638.9 L509.3,638.9 L510.8,638.9 L512.3,638.9 L513.8,638.9 L515.3,639.0 L516.8,639.0 L518.3,639.0 L519.9,639.0 L521.4,639.0 L522.9,639.0 L524.4,639.0 L525.9,639.0 L527.4,639.0 L528.9,639.0 L530.4,639.0 L531.9,639.0 L533.4,639.0 L534.9,639.0 L536.4,639.0 L537.9,639.0 L539.4,638.9 L540.9,638.9 L542.4,638.9 L543.9,638.9 L545.4,638.9 L546.9,638.9 L548.4,638.9 L549.9,638.9 L551.4,638.9 L552.9,638.9 L554.5,638.9 L556.0,638.9 L557.5,638.9 L559.0,638.9 L560.5,638.9 L562.0,638.9 L563.5,638.9 L565.0,638.9 L566.5,638.9 L568.0,638.9 L569.5,639.0 L571.0,639.0 L572.5,639.0 L574.0,639.0 L575.5,639.0 L577.0,639.0"/>
<path class="c" stroke="#00ff00" d="M200.9,959.4 L201.4,958.0 L202.0,956.6 L202.5,955.2 L203.1,953.8 L203.6,952.4 L204.2,951.0 L204.7,949.6 L205.2,948.2 L205.8,946.8 L206.3,945.4 L206.8,943.9 L207.4,942.5 L207.9,941.1 L208.4,939.7 L209.0,938.3 L209.5,936.9 L210.0,935.5 L210.5,934.1 L211.1,932.7 L211.6,931.3 L212.1,929.9 L212.6,928.4 L213.1,927.0 L213.7,925.6 L214.2,924.2 L214.7,922.8 L215.2,921.4 L215.7,920.0 L216.2,918.5 L216.7,917.1 L217.3,915.7 L217.8,914.3 L218.3,912.9 L218.8,911.5 L219.3,910.0 L219.8,908.6 L220.3,907.2 L220.8,905.8 L221.3,904.4 L221.8,903.0 L222.3,901.5 L222.8,900.1 L223.3,898.7 L223.8,897.3 L224.3,895.9 L224.7,894.4 L225.2,893.0 L225.7,891.6 L226.2,890.2 L226.7,888.7 L227.2,887.3 L227.7,885.9 L228.2,884.5 L228.6,883.0 L229.1,881.6 L229.6,880.2 L230.1,878.8 L230.6,877.3 L231.0,875.9 L231.5,874.5 L232.0,873.1 L232.5,871.6 L232.9,870.2 L233.4,868.8 L233.9,867.4 L234.3,865.9 L234.8,864.5 L235.3,863.1 L235.7,861.6 L236.2,860.2 L236.7,858.8 L237.1,857.3 L237.6,855.9 L238.1,854.5 L238.5,853.0 L239.0,851.6 L239.4,850.2 L239.9,848.8 L240.3,847.3 L240.8,845.9 L241.3,844.5 L241.7,843.0 L242.2,841.6 L242.6,840.1 L243.1,838.7 L243.5,837.3 L244.0,835.8 L244.4,834.4 L244.8,833.0 L245.3,831.5 L245.7,830.1 L246.2,828.7 L246.6,827.2 L247.1,825.8 L247.5,824.3 L247.9,822.9 L248.4,821.5 L248.8,820.0 L249.3,818.6 L249.7,817.1 L250.1,815.7 L250.6,814.3 L251.0,812.8 L251.4,811.4 L251.8,809.9 L252.3,808.5 L252.7,807.1 L253.1,805.6 L253.6,804.2 L254.0,802.7 L254.4,801.3 L254.8,799.8 L255.3,798.4 L255.7,797.0 L256.1,795.5 L256.5,794.1 L256.9,792.6 L257.4,791.2 L257.8,789.7 L258.2,788.3 L258.6,786.8 L259.0,785.4 L259.4,784.0 L259.9,782.5 L260.3,781.1 L260.7,779.6 L261.1,778.2 L261.5,776.7 L261.9,775.3 L262.3,773.8 L262.7,772.4 L263.1,770.9 L263.5,769.5 L263.9,768.0 L264.4,766.6 L264.8,765.1 L265.2,763.7 L265.6,762.2 L266.0,760.8 L266.4,759.3 L266.8,757.9 L267.2,756.4 L267.6,755.0 L268.0,753.5 L268.4,752.1 L268.7,750.6 L269.1,749.2 L269.5,747.7 L269.9,746.3 L270.3,744.8 L270.7,743.4 L271.1,741.9 L271.5,740.5 L271.9,739.0 L272.3,737.6 L272.7,736.1 L273.1,734.6 L273.4,733.2 L273.8,731.7 L274.2,730.3 L274.6,728.8 L275.0,727.4 L275.4,725.9 L275.7,724.5 L276.1,723.0 L276.5,721.6 L276.9,720.1 L277.3,718.6 L277.6,717.2 L278.0,715.7 L278.4,714.3 L278.8,712.8 L279.2,711.4 L279.5,709.9 L279.9,708.4 L280.3,707.0 L280.7,705.5 L281.0,704.1 L281.4,702.6 L281.8,701.2 L282.1,699.7 L282.5,698.2 L282.9,696.8 L283.3,695.3 L283.6,693.9 L284.0,692.4 L284.4,690.9 L284.7,689.5 L285.1,688.0 L285.5,686.6 L285.8,685.1 L286.2,683.6 L286.5,682.2 L286.9,680.7 L287.3,679.3 L287.6,677.8 L288.0,676.3 L288.4,674.9 L288.7,673.4 L289.1,672.0 L289.4,670.5 L289.8,669.0 L290.2,667.6 L290.5,666.1 L290.9,664.6 L291.2,663.2 L291.6,661.7 L291.9,660.3 L292.3,658.8 L292.6,657.3 L293.0,655.9 L293.3,654.4 L293.7,652.9 L294.1,651.5 L294.4,650.0 L294.8,648.6 L295.1,647.1 L295.5,645.6 L295.8,644.2 L296.2,642.7 L296.5,641.2 L296.8,639.8 L297.2,638.3 L297.5,636.8 L297.9,635.4 L298.2,633.9 L298.6,632.4 L298.9,631.0 L299.3,629.5 L299.6,628.0 L300.0,626.6 L300.3,625.1 L300.6,623.7 L301.0,622.2 L301.3,620.7 L301.7,619.3 L302.0,617.8 L302.4,616.3 L302.7,614.9 L303.0,613.4 L303.4,611.9 L303.7,610.5 L304.0,609.0 L304.4,607.5 L304.7,606.1 L305.1,604.6 L305.4,603.1 L305.7,601.7 L306.1,600.2 L306.4,598.7 L306.7,597.3 L307.1,595.8 L307.4,594.3 L307.7,592.9 L308.1,591.4 L308.4,589.9 L308.7,588.5 L309.1,587.0 L309.4,585.5 L309.7,584.1 L310.0,582.6 L310.4,581.1 L310.7,579.7 L311.0,578.2 L311.3,576.7 L311.6,575.2 L312.0,573.8 L312.3,572.3 L312.6,570.8 L312.9,569.4 L313.2,567.9 L313.5,566.4 L313.8,565.0 L314.0,563.5 L314.3,562.0 L314.6,560.5 L314.9,559.1 L315.2,557.6 L315.4,556.1 L315.7,554.6 L316.0,553.2 L316.2,551.7 L316.5,550.2 L316.7,548.7 L316.9,547.2 L317.2,545.8 L317.4,544.3 L317.6,542.8 L317.9,541.3 L318.1,539.8 L318.3,538.4 L318.5,536.9 L318.8,535.4 L319.0,533.9 L319.2,532.4 L319.4,530.9 L319.7,529.4 L319.9,527.9 L320.1,526.4 L320.3,525.0 L320.6,523.5 L320.8,522.0 L321.1,520.5 L321.3,519.0 L321.6,517.5 L321.8,516.0 L322.1,514.5 L322.4,513.0 L322.6,511.5 L322.9,510.0 L323.2,508.5 L323.5,507.0 L323.9,505.4 L324.2,503.9 L324.5,502.4 L324.9,500.9 L325.3,499.5 L325.8,498.0 L326.4,496.6 L327.0,495.3 L327.7,494.0 L328.6,492.8 L329.6,491.7 L330.6,490.8 L331.8,490.2 L333.0,489.9 L334.2,489.9 L335.4,490.3 L336.6,491.0 L337.7,491.8 L338.8,492.8 L339.8,493.8 L340.8,494.8 L341.7,496.0 L342.6,497.1 L343.5,498.4 L344.3,499.6 L345.0,500.9 L345.8,502.2 L346.6,503.6 L347.3,504.9 L348.1,506.3 L348.8,507.6 L349.6,509.0 L350.4,510.3 L351.2,511.6 L352.0,512.9 L352.9,514.1 L353.7,515.4 L354.7,516.5 L355.6,517.7 L356.6,518.8 L357.6,519.9 L358.7,521.0 L359.7,522.1 L360.8,523.1 L362.0,524.1 L363.1,525.0 L364.3,525.9 L365.5,526.8 L366.7,527.7 L367.9,528.6 L369.2,529.4 L370.4,530.2 L371.7,531.0 L373.0,531.7 L374.3,532.4 L375.7,533.1 L377.0,533.8 L378.4,534.5 L379.8,535.1 L381.2,535.7 L382.5,536.3 L384.0,536.8 L385.4,537.4 L386.8,537.9 L388.2,538.4 L389.6,538.8 L391.1,539.3 L392.5,539.7 L394.0,540.1 L395.4,540.5 L396.9,540.9 L398.3,541.2 L399.8,541.5 L401.3,541.9 L402.7,542.2 L404.2,542.4 L405.7,542.7 L407.2,542.9 L408.6,543.2 L410.1,543.4 L411.6,543.6 L413.1,543.8 L414.6,544.0 L416.1,544.2 L417.6,544.3 L419.1,544.5 L420.6,544.6 L422.1,544.7 L423.6,544.8 L425.1,544.9 L426.6,545.0 L428.1,545.1 L429.6,545.2 L431.1,545.3 L432.6,545.4 L434.1,545.4 L435.6,545.5 L437.1,545.5 L438.6,545.6 L440.1,545.6 L441.6,545.7 L443.1,545.7 L444.6,545.8 L446.1,545.8 L447.6,545.8 L449.1,545.9 L450.6,545.9 L452.2,545.9 L453.7,545.9 L455.2,546.0 L456.7,546.0 L458.2,546.0 L459.7,546.0 L461.2,546.0 L462.7,546.0 L464.2,546.0 L465.7,546.0 L467.2,546.0 L468.7,546.0 L470.2,546.0 L471.7,546.0 L473.2,546.0 L474.7,546.0 L476.2,546.0 L477.7,546.0 L479.2,546.0 L480.7,546.0 L482.2,546.0 L483.7,546.0 L485.2,545.9 L486.7,545.9 L488.3,545.9 L489.8,545.9 L491.3,545.9 L492.8,545.9 L494.3,545.9 L495.8,545.8 L497.3,545.8 L498.8,545.8 L500.3,545.8 L501.8,545.8 L503.3,545.8 L504.8,545.7 L506.3,545.7 L507.8,545.7 L509.3,545.7 L510.8,545.7 L512.3,545.7 L513.8,545.6 L515.3,545.6 L516.8,545.6 L518.3,545.6 L519.8,545.5 L521.3,545.5 L522.9,545.5 L524.4,545.5 L525.9,545.5 L527.4,545.4 L528.9,545.4 L530.4,545.4 L531.9,545.4 L533.4,545.3 L534.9,545.3 L536.4,545.3 L537.9,545.2 L539.4,545.2 L540.9,545.2 L542.4,545.2 L543.9,545.1 L545.4,545.1 L546.9,545.1 L548.4,545.0 L549.9,545.0 L551.4,545.0 L552.9,545.0 L554.4,544.9 L555.9,544.9 L557.4,544.9 L559.0,544.8 L560.5,544.8 L562.0,544.8 L563.5,544.7 L565.0,544.7 L566.5,544.7 L568.0,544.6 L569.5,544.6 L571.0,544.5 L572.5,544.5 L574.0,544.5 L575.5,544.4 L577.0,544.4"/>
<path class="c" stroke="#00ff00" d="M265.7,959.4 L266.0,957.9 L266.3,956.5 L266.6,955.0 L266.9,953.5 L267.3,952.0 L267.6,950.6 L267.9,949.1 L268.2,947.6 L268.5,946.2 L268.8,944.7 L269.1,943.2 L269.4,941.7 L269.7,940.3 L270.0,938.8 L270.3,937.3 L270.6,935.8 L270.9,934.4 L271.3,932.9 L271.6,931.4 L271.9,930.0 L272.2,928.5 L272.5,927.0 L272.8,925.5 L273.1,924.1 L273.4,922.6 L273.7,921.1 L274.0,919.6 L274.3,918.2 L274.6,916.7 L274.9,915.2 L275.2,913.7 L275.5,912.3 L275.8,910.8 L276.1,909.3 L276.4,907.8 L276.7,906.4 L277.0,904.9 L277.3,903.4 L277.6,901.9 L277.9,900.5 L278.2,899.0 L278.5,897.5 L278.8,896.0 L279.1,894.6 L279.4,893.1 L279.7,891.6 L280.0,890.1 L280.3,888.7 L280.6,887.2 L280.9,885.7 L281.2,884.2 L281.5,882.8 L281.8,881.3 L282.1,879.8 L282.4,878.3 L282.7,876.9 L283.0,875.4 L283.3,873.9 L283.6,872.4 L283.9,871.0 L284.2,869.5 L284.5,868.0 L284.8,866.5 L285.0,865.1 L285.3,863.6 L285.6,862.1 L285.9,860.6 L286.2,859.1 L286.5,857.7 L286.8,856.2 L287.1,854.7 L287.4,853.2 L287.6,851.8 L287.9,850.3 L288.2,848.8 L288.5,847.3 L288.8,845.8 L289.1,844.4 L289.3,842.9 L289.6,841.4 L289.9,839.9 L290.2,838.5 L290.5,837.0 L290.7,835.5 L291.0,834.0 L291.3,832.5 L291.6,831.1 L291.9,829.6 L292.1,828.1 L292.4,826.6 L292.7,825.1 L293.0,823.7 L293.2,822.2 L293.5,820.7 L293.8,819.2 L294.0,817.7 L294.3,816.3 L294.6,814.8 L294.8,813.3 L295.1,811.8 L295.4,810.3 L295.6,808.9 L295.9,807.4 L296.2,805.9 L296.4,804.4 L296.7,802.9 L297.0,801.5 L297.2,800.0 L297.5,798.5 L297.7,797.0 L298.0,795.5 L298.3,794.0 L298.5,792.6 L298.8,791.1 L299.0,789.6 L299.3,788.1 L299.5,786.6 L299.8,785.1 L300.0,783.7 L300.3,782.2 L300.5,780.7 L300.8,779.2 L301.0,777.7 L301.3,776.2 L301.5,774.8 L301.8,773.3 L302.0,771.8 L302.2,770.3 L302.5,768.8 L302.7,767.3 L303.0,765.9 L303.2,764.4 L303.4,762.9 L303.7,761.4 L303.9,759.9 L304.1,758.4 L304.4,756.9 L304.6,755.5 L304.8,754.0 L305.1,752.5 L305.3,751.0 L305.5,749.5 L305.8,748.0 L306.0,746.5 L306.2,745.1 L306.5,743.6 L306.7,742.1 L306.9,740.6 L307.1,739.1 L307.4,737.6 L307.6,736.1 L307.8,734.6 L308.0,733.2 L308.3,731.7 L308.5,730.2 L308.7,728.7 L308.9,727.2 L309.1,725.7 L309.4,724.2 L309.6,722.7 L309.8,721.3 L310.0,719.8 L310.2,718.3 L310.5,716.8 L310.7,715.3 L310.9,713.8 L311.1,712.3 L311.3,710.8 L311.6,709.3 L311.8,707.8 L312.0,706.4 L312.2,704.9 L312.4,703.4 L312.6,701.9 L312.8,700.4 L313.1,698.9 L313.3,697.4 L313.5,695.9 L313.7,694.4 L313.9,692.9 L314.1,691.4 L314.3,690.0 L314.6,688.5 L314.8,687.0 L315.0,685.5 L315.2,684.0 L315.4,682.5 L315.6,681.0 L315.8,679.5 L316.0,678.0 L316.3,676.5 L316.5,675.0 L316.7,673.5 L316.9,672.0 L317.1,670.6 L317.3,669.1 L317.5,667.6 L317.8,666.1 L318.0,664.6 L318.2,663.1 L318.4,661.6 L318.6,660.1 L318.9,658.7 L319.1,657.2 L319.3,655.7 L319.5,654.2 L319.7,652.7 L320.0,651.2 L320.2,649.8 L320.4,648.3 L320.7,646.8 L320.9,645.3 L321.1,643.8 L321.4,642.4 L321.6,640.9 L321.8,639.4 L322.1,638.0 L322.3,636.5 L322.6,635.0 L322.8,633.5 L323.1,632.0 L323.3,630.6 L323.6,629.1 L323.8,627.6 L324.1,626.1 L324.3,624.6 L324.6,623.1 L324.8,621.5 L325.1,620.0 L325.4,618.5 L325.7,616.9 L326.0,615.4 L326.4,613.9 L326.9,612.4 L327.6,611.0 L328.3,609.6 L329.2,608.3 L330.1,607.2 L331.1,606.6 L332.1,606.3 L333.0,606.7 L333.8,607.5 L334.6,608.7 L335.4,610.0 L336.1,611.3 L336.8,612.6 L337.4,613.9 L338.1,615.3 L338.7,616.6 L339.3,618.0 L339.8,619.4 L340.4,620.8 L340.9,622.2 L341.4,623.6 L341.9,625.0 L342.3,626.4 L342.8,627.9 L343.2,629.3 L343.7,630.8 L344.1,632.2 L344.5,633.7 L344.9,635.2 L345.3,636.6 L345.7,638.1 L346.1,639.6 L346.5,641.0 L346.9,642.5 L347.3,644.0 L347.7,645.4 L348.1,646.9 L348.5,648.3 L349.0,649.8 L349.4,651.2 L349.8,652.7 L350.3,654.1 L350.8,655.5 L351.2,657.0 L351.7,658.4 L352.2,659.8 L352.8,661.2 L353.3,662.6 L353.8,664.0 L354.3,665.4 L354.9,666.8 L355.4,668.2 L356.0,669.6 L356.5,671.0 L357.1,672.3 L357.6,673.7 L358.2,675.1 L358.7,676.5 L359.3,677.9 L359.8,679.3 L360.4,680.8 L360.9,682.2 L361.5,683.6 L362.1,685.0 L362.7,686.4 L363.2,687.7 L363.8,689.1 L364.5,690.5 L365.1,691.9 L365.7,693.2 L366.4,694.6 L367.1,695.9 L367.8,697.2 L368.6,698.5 L369.3,699.8 L370.1,701.1 L370.9,702.4 L371.7,703.6 L372.5,704.9 L373.3,706.1 L374.2,707.3 L375.1,708.6 L376.0,709.8 L376.9,711.0 L377.8,712.2 L378.7,713.4 L379.6,714.5 L380.6,715.7 L381.5,716.9 L382.5,718.0 L383.5,719.2 L384.4,720.4 L385.4,721.5 L386.4,722.7 L387.4,723.8 L388.4,725.0 L389.3,726.1 L390.3,727.2 L391.3,728.4 L392.3,729.5 L393.3,730.7 L394.3,731.8 L395.3,732.9 L396.3,734.1 L397.2,735.2 L398.2,736.4 L399.2,737.5 L400.1,738.7 L401.1,739.8 L402.0,741.0 L403.0,742.1 L403.9,743.3 L404.9,744.5 L405.8,745.6 L406.8,746.8 L407.7,748.0 L408.6,749.1 L409.6,750.3 L410.5,751.5 L411.4,752.6 L412.4,753.8 L413.3,755.0 L414.2,756.2 L415.1,757.4 L416.1,758.5 L417.0,759.7 L417.9,760.9 L418.8,762.1 L419.7,763.3 L420.7,764.5 L421.6,765.7 L422.5,766.9 L423.4,768.1 L424.3,769.3 L425.2,770.5 L426.2,771.7 L427.1,772.9 L428.0,774.1 L428.9,775.3 L429.9,776.5 L430.8,777.7 L431.7,778.9 L432.7,780.1 L433.6,781.3 L434.6,782.5 L435.5,783.6 L436.5,784.8 L437.4,786.0 L438.4,787.1 L439.4,788.3 L440.4,789.4 L441.4,790.5 L442.4,791.7 L443.4,792.8 L444.4,793.9 L445.5,794.9 L446.5,796.0 L447.6,797.1 L448.7,798.1 L449.8,799.1 L450.9,800.1 L452.0,801.1 L453.1,802.1 L454.2,803.0 L455.4,804.0 L456.6,804.9 L457.8,805.8 L459.0,806.7 L460.2,807.5 L461.4,808.4 L462.6,809.2 L463.9,810.0 L465.2,810.8 L466.4,811.6 L467.7,812.3 L469.0,813.1 L470.3,813.8 L471.6,814.6 L472.9,815.3 L474.3,816.0 L475.6,816.7 L477.0,817.4 L478.3,818.1 L479.7,818.7 L481.0,819.4 L482.4,820.0 L483.8,820.7 L485.1,821.3 L486.5,822.0 L487.9,822.6 L489.3,823.3 L490.6,823.9 L492.0,824.5 L493.4,825.1 L494.8,825.8 L496.2,826.4 L497.5,827.0 L498.9,827.7 L500.3,828.3 L501.7,828.9 L503.0,829.5 L504.4,830.2 L505.8,830.8 L507.2,831.4 L508.5,832.1 L509.9,832.7 L511.3,833.3 L512.6,834.0 L514.0,834.6 L515.3,835.2 L516.7,835.9 L518.1,836.5 L519.4,837.2 L520.8,837.8 L522.1,838.4 L523.5,839.1 L524.8,839.7 L526.2,840.4 L527.6,841.0 L528.9,841.7 L530.3,842.3 L531.6,843.0 L533.0,843.6 L534.3,844.3 L535.6,845.0 L537.0,845.6 L538.3,846.3 L539.7,846.9 L541.0,847.6 L542.4,848.3 L543.7,849.0 L545.0,849.6 L546.4,850.3 L547.7,851.0 L549.1,851.7 L550.4,852.3 L551.7,853.0 L553.1,853.7 L554.4,854.4 L555.7,855.1 L557.1,855.8 L558.4,856.5 L559.7,857.2 L561.1,857.9 L562.4,858.6 L563.7,859.3 L565.1,860.0 L566.4,860.7 L567.7,861.4 L569.0,862.1 L570.4,862.9 L571.7,863.6 L573.0,864.3 L574.3,865.0 L575.7,865.8 L577.0,866.5"/>
<path class="c" stroke="#00ff00" d="M291.4,959.4 L291.7,957.9 L291.9,956.4 L292.2,954.9 L292.4,953.4 L292.7,952.0 L292.9,950.5 L293.2,949.0 L293.4,947.5 L293.7,946.0 L293.9,944.5 L294.2,943.0 L294.5,941.6 L294.7,940.1 L295.0,938.6 L295.2,937.1 L295.5,935.6 L295.7,934.1 L296.0,932.6 L296.3,931.1 L296.5,929.7 L296.8,928.2 L297.0,926.7 L297.3,925.2 L297.5,923.7 L297.8,922.2 L298.1,920.7 L298.3,919.2 L298.6,917.8 L298.8,916.3 L299.1,914.8 L299.4,913.3 L299.6,911.8 L299.9,910.3 L300.1,908.8 L300.4,907.3 L300.6,905.9 L300.9,904.4 L301.1,902.9 L301.4,901.4 L301.6,899.9 L301.9,898.4 L302.2,896.9 L302.4,895.4 L302.7,894.0 L302.9,892.5 L303.2,891.0 L303.4,889.5 L303.6,888.0 L303.9,886.5 L304.1,885.0 L304.4,883.5 L304.6,882.0 L304.9,880.6 L305.1,879.1 L305.3,877.6 L305.6,876.1 L305.8,874.6 L306.1,873.1 L306.3,871.6 L306.5,870.1 L306.8,868.6 L307.0,867.1 L307.2,865.6 L307.5,864.2 L307.7,862.7 L307.9,861.2 L308.1,859.7 L308.4,858.2 L308.6,856.7 L308.8,855.2 L309.0,853.7 L309.2,852.2 L309.4,850.7 L309.7,849.2 L309.9,847.7 L310.1,846.2 L310.3,844.7 L310.5,843.2 L310.7,841.8 L310.9,840.3 L311.1,838.8 L311.3,837.3 L311.5,835.8 L311.7,834.3 L311.9,832.8 L312.1,831.3 L312.3,829.8 L312.5,828.3 L312.7,826.8 L312.8,825.3 L313.0,823.8 L313.2,822.3 L313.4,820.8 L313.6,819.3 L313.8,817.8 L314.0,816.3 L314.2,814.8 L314.3,813.3 L314.5,811.8 L314.7,810.3 L314.9,808.8 L315.1,807.3 L315.3,805.8 L315.5,804.3 L315.7,802.8 L315.8,801.3 L316.0,799.8 L316.2,798.3 L316.4,796.8 L316.6,795.3 L316.8,793.8 L317.0,792.3 L317.2,790.9 L317.4,789.4 L317.6,787.9 L317.8,786.4 L318.0,784.9 L318.2,783.4 L318.4,781.9 L318.6,780.4 L318.8,778.9 L319.0,777.4 L319.2,775.9 L319.4,774.4 L319.7,772.9 L319.9,771.4 L320.2,769.9 L320.4,768.4 L320.7,767.0 L320.9,765.5 L321.2,764.0 L321.5,762.5 L321.8,761.0 L322.2,759.6 L322.5,758.1 L322.8,756.6 L323.2,755.2 L323.6,753.7 L324.0,752.2 L324.4,750.8 L324.8,749.3 L325.1,747.9 L325.4,746.6 L325.7,745.1 L326.2,743.5 L326.8,741.6 L327.7,739.9 L328.5,739.0 L329.4,738.9 L330.2,739.5 L331.0,740.5 L331.7,741.8 L332.4,743.1 L333.0,744.5 L333.6,745.9 L334.2,747.3 L334.7,748.7 L335.2,750.1 L335.6,751.5 L336.0,753.0 L336.4,754.5 L336.7,755.9 L337.1,757.4 L337.4,758.9 L337.7,760.4 L338.0,761.9 L338.2,763.3 L338.5,764.8 L338.8,766.3 L339.0,767.8 L339.3,769.3 L339.6,770.8 L339.9,772.3 L340.1,773.8 L340.4,775.3 L340.7,776.8 L341.1,778.2 L341.4,779.7 L341.7,781.2 L342.0,782.7 L342.3,784.1 L342.7,785.6 L343.0,787.1 L343.3,788.5 L343.6,790.0 L344.0,791.5 L344.3,792.9 L344.6,794.4 L344.9,795.9 L345.2,797.4 L345.5,798.8 L345.8,800.3 L346.1,801.8 L346.4,803.3 L346.7,804.7 L346.9,806.2 L347.2,807.7 L347.5,809.2 L347.7,810.7 L348.0,812.2 L348.2,813.7 L348.5,815.2 L348.7,816.6 L349.0,818.1 L349.2,819.6 L349.5,821.1 L349.7,822.6 L349.9,824.1 L350.2,825.6 L350.4,827.1 L350.7,828.6 L350.9,830.1 L351.2,831.6 L351.4,833.1 L351.7,834.6 L351.9,836.1 L352.2,837.5 L352.4,839.0 L352.7,840.5 L353.0,842.0 L353.3,843.5 L353.5,845.0 L353.8,846.5 L354.1,847.9 L354.4,849.4 L354.7,850.9 L355.0,852.4 L355.4,853.8 L355.7,855.3 L356.0,856.8 L356.4,858.3 L356.8,859.7 L357.1,861.2 L357.5,862.6 L357.9,864.1 L358.3,865.6 L358.7,867.0 L359.1,868.5 L359.5,869.9 L359.9,871.4 L360.4,872.8 L360.8,874.2 L361.3,875.7 L361.7,877.1 L362.2,878.5 L362.7,880.0 L363.1,881.4 L363.6,882.8 L364.1,884.2 L364.7,885.7 L365.2,887.1 L365.7,888.5 L366.2,889.9 L366.8,891.3 L367.3,892.7 L367.9,894.1 L368.4,895.5 L369.0,896.9 L369.6,898.3 L370.2,899.7 L370.8,901.1 L371.4,902.4 L372.0,903.8 L372.6,905.2 L373.3,906.6 L373.9,907.9 L374.5,909.3 L375.2,910.7 L375.8,912.0 L376.5,913.4 L377.2,914.7 L377.9,916.1 L378.5,917.4 L379.2,918.7 L379.9,920.1 L380.7,921.4 L381.4,922.7 L382.1,924.1 L382.8,925.4 L383.6,926.7 L384.3,928.0 L385.1,929.3 L385.8,930.6 L386.6,931.9 L387.4,933.2 L388.2,934.5 L388.9,935.8 L389.7,937.1 L390.5,938.3 L391.3,939.6 L392.2,940.9 L393.0,942.2 L393.8,943.4 L394.7,944.7 L395.5,945.9 L396.3,947.2 L397.2,948.4 L398.1,949.7 L398.9,950.9 L399.8,952.1 L400.7,953.3 L401.6,954.6 L402.5,955.8 L403.4,957.0 L404.3,958.2 L405.2,959.4"/>
<path class="c" stroke="#ff00ff" d="M249.4,959.4 L250.0,958.0 L250.6,956.6 L251.1,955.2 L251.7,953.8 L252.2,952.4 L252.8,951.0 L253.4,949.7 L253.9,948.3 L254.5,946.9 L255.0,945.5 L255.6,944.1 L256.1,942.7 L256.7,941.3 L257.3,939.9 L257.8,938.5 L258.4,937.1 L258.9,935.7 L259.5,934.3 L260.0,932.9 L260.6,931.5 L261.1,930.1 L261.6,928.7 L262.2,927.3 L262.7,925.9 L263.3,924.5 L263.8,923.1 L264.4,921.7 L264.9,920.3 L265.4,918.9 L266.0,917.5 L266.5,916.0 L267.0,914.6 L267.6,913.2 L268.1,911.8 L268.6,910.4 L269.2,909.0 L269.7,907.6 L270.2,906.2 L270.8,904.8 L271.3,903.4 L271.8,901.9 L272.3,900.5 L272.8,899.1 L273.4,897.7 L273.9,896.3 L274.4,894.9 L274.9,893.5 L275.4,892.0 L275.9,890.6 L276.4,889.2 L276.9,887.8 L277.4,886.4 L277.9,884.9 L278.4,883.5 L278.9,882.1 L279.4,880.7 L279.9,879.3 L280.4,877.8 L280.9,876.4 L281.4,875.0 L281.9,873.6 L282.4,872.1 L282.8,870.7 L283.3,869.3 L283.8,867.9 L284.3,866.4 L284.8,865.0 L285.2,863.6 L285.7,862.1 L286.2,860.7 L286.6,859.3 L287.1,857.8 L287.6,856.4 L288.0,855.0 L288.5,853.5 L288.9,852.1 L289.4,850.7 L289.8,849.2 L290.3,847.8 L290.7,846.4 L291.1,844.9 L291.6,843.5 L292.0,842.0 L292.4,840.6 L292.9,839.1 L293.3,837.7 L293.7,836.3 L294.2,834.8 L294.6,833.4 L295.0,831.9 L295.4,830.5 L295.8,829.0 L296.2,827.6 L296.6,826.1 L297.0,824.7 L297.4,823.2 L297.8,821.8 L298.2,820.3 L298.6,818.9 L299.0,817.4 L299.4,816.0 L299.8,814.5 L300.1,813.1 L300.5,811.6 L300.9,810.2 L301.2,808.7 L301.6,807.2 L302.0,805.8 L302.3,804.3 L302.7,802.9 L303.0,801.4 L303.4,799.9 L303.7,798.5 L304.1,797.0 L304.4,795.6 L304.7,794.1 L305.1,792.6 L305.4,791.2 L305.7,789.7 L306.1,788.2 L306.4,786.8 L306.7,785.3 L307.0,783.8 L307.3,782.4 L307.6,780.9 L307.9,779.4 L308.2,777.9 L308.5,776.5 L308.8,775.0 L309.1,773.5 L309.4,772.1 L309.7,770.6 L310.0,769.1 L310.3,767.6 L310.6,766.1 L310.9,764.7 L311.1,763.2 L311.4,761.7 L311.7,760.2 L312.0,758.8 L312.2,757.3 L312.5,755.8 L312.8,754.3 L313.0,752.8 L313.3,751.4 L313.6,749.9 L313.8,748.4 L314.1,746.9 L314.3,745.4 L314.6,744.0 L314.9,742.5 L315.1,741.0 L315.4,739.5 L315.6,738.0 L315.9,736.5 L316.1,735.1 L316.4,733.6 L316.6,732.1 L316.8,730.6 L317.1,729.1 L317.3,727.6 L317.6,726.1 L317.8,724.7 L318.0,723.2 L318.3,721.7 L318.5,720.2 L318.7,718.7 L319.0,717.2 L319.2,715.7 L319.4,714.2 L319.7,712.8 L319.9,711.3 L320.1,709.8 L320.4,708.3 L320.6,706.8 L320.8,705.3 L321.1,703.8 L321.3,702.3 L321.5,700.9 L321.8,699.4 L322.0,697.9 L322.2,696.4 L322.4,694.9 L322.7,693.4 L322.9,691.9 L323.1,690.4 L323.4,688.9 L323.6,687.5 L323.8,686.0 L324.0,684.5 L324.3,683.0 L324.5,681.5 L324.7,680.0 L325.0,678.5 L325.2,677.0 L325.4,675.6 L325.6,674.1 L325.9,672.6 L326.1,671.1 L326.3,669.6 L326.6,668.1 L326.8,666.6 L327.0,665.1 L327.3,663.7 L327.5,662.2 L327.8,660.7 L328.0,659.2 L328.2,657.7 L328.5,656.2 L328.7,654.7 L329.0,653.3 L329.2,651.8 L329.5,650.3 L329.7,648.8 L330.0,647.3 L330.2,645.8 L330.5,644.4 L330.7,642.9 L331.0,641.4 L331.2,639.9 L331.5,638.4 L331.7,636.9 L332.0,635.5 L332.3,634.0 L332.5,632.5 L332.8,631.0 L333.1,629.5 L333.3,628.1 L333.6,626.6 L333.9,625.1 L334.2,623.6 L334.5,622.2 L334.8,620.7 L335.1,619.2 L335.4,617.8 L335.7,616.3 L336.0,614.8 L336.3,613.3 L336.6,611.9 L337.0,610.4 L337.3,609.0 L337.6,607.5 L338.0,606.0 L338.4,604.6 L338.7,603.1 L339.1,601.7 L339.5,600.2 L339.9,598.8 L340.3,597.3 L340.7,595.9 L341.1,594.4 L341.5,593.0 L342.0,591.5 L342.4,590.1 L342.8,588.7 L343.3,587.2 L343.7,585.8 L344.2,584.4 L344.7,582.9 L345.1,581.5 L345.6,580.1 L346.1,578.6 L346.5,577.2 L347.0,575.8 L347.5,574.3 L347.9,572.9 L348.4,571.5 L348.8,570.0 L349.3,568.6 L349.7,567.2 L350.2,565.7 L350.6,564.3 L351.0,562.8 L351.5,561.4 L351.9,560.0 L352.3,558.5 L352.7,557.1 L353.1,555.6 L353.5,554.2 L353.9,552.7 L354.2,551.3 L354.6,549.8 L355.0,548.4 L355.4,547.0 L355.9,545.5 L356.3,544.1 L356.8,542.7 L357.3,541.2 L357.8,539.8 L358.4,538.4 L359.0,537.0 L359.7,535.6 L360.4,534.3 L361.1,532.9 L361.9,531.6 L362.7,530.3 L363.6,529.0 L364.5,527.7 L365.5,526.5 L366.4,525.3 L367.5,524.1 L368.5,523.0 L369.6,522.0 L370.7,521.0 L371.8,520.0 L373.0,519.1 L374.2,518.3 L375.4,517.5 L376.7,516.8 L377.9,516.1 L379.2,515.5 L380.5,515.0 L381.9,514.4 L383.2,514.0 L384.6,513.5 L386.0,513.1 L387.4,512.8 L388.8,512.4 L390.3,512.2 L391.7,511.9 L393.2,511.7 L394.6,511.5 L396.1,511.3 L397.6,511.1 L399.1,511.0 L400.6,510.9 L402.1,510.8 L403.7,510.7 L405.2,510.6 L406.7,510.6 L408.2,510.5 L409.8,510.5 L411.3,510.4 L412.8,510.4 L414.4,510.3 L415.9,510.3 L417.4,510.3 L418.9,510.2 L420.5,510.2 L422.0,510.2 L423.5,510.1 L425.0,510.1 L426.5,510.1 L428.1,510.0 L429.6,510.0 L431.1,510.0 L432.6,510.0 L434.1,510.0 L435.7,509.9 L437.2,509.9 L438.7,509.9 L440.2,509.9 L441.7,509.9 L443.2,509.9 L444.7,509.8 L446.2,509.8 L447.8,509.8 L449.3,509.8 L450.8,509.8 L452.3,509.8 L453.8,509.8 L455.3,509.8 L456.8,509.8 L458.3,509.8 L459.8,509.8 L461.3,509.8 L462.8,509.8 L464.3,509.8 L465.8,509.8 L467.3,509.8 L468.8,509.8 L470.3,509.8 L471.8,509.8 L473.3,509.8 L474.8,509.8 L476.3,509.8 L477.8,509.8 L479.3,509.8 L480.8,509.8 L482.3,509.9 L483.8,509.9 L485.3,509.9 L486.8,509.9 L488.3,509.9 L489.8,509.9 L491.3,509.9 L492.8,509.9 L494.3,509.9 L495.8,510.0 L497.3,510.0 L498.8,510.0 L500.3,510.0 L501.8,510.0 L503.3,510.0 L504.8,510.0 L506.3,510.1 L507.8,510.1 L509.3,510.1 L510.8,510.1 L512.3,510.1 L513.8,510.1 L515.3,510.1 L516.8,510.2 L518.3,510.2 L519.8,510.2 L521.3,510.2 L522.8,510.2 L524.3,510.2 L525.8,510.2 L527.3,510.2 L528.8,510.3 L530.3,510.3 L531.8,510.3 L533.3,510.3 L534.8,510.3 L536.3,510.3 L537.8,510.3 L539.3,510.3 L540.8,510.4 L542.3,510.4 L543.8,510.4 L545.3,510.4 L546.8,510.4 L548.3,510.4 L549.8,510.4 L551.3,510.4 L552.8,510.4 L554.3,510.4 L555.8,510.4 L557.3,510.4 L558.8,510.4 L560.4,510.4 L561.9,510.4 L563.4,510.4 L564.9,510.4 L566.4,510.4 L567.9,510.4 L569.4,510.4 L570.9,510.4 L572.5,510.4 L574.0,510.4 L575.5,510.4 L577.0,510.4"/>
<path class="c" stroke="#ff00ff" d="M287.8,959.4 L288.0,957.9 L288.3,956.4 L288.5,954.9 L288.7,953.4 L289.0,952.0 L289.2,950.5 L289.4,949.0 L289.7,947.5 L289.9,946.0 L290.1,944.5 L290.4,943.0 L290.6,941.6 L290.8,940.1 L291.1,938.6 L291.3,937.1 L291.5,935.6 L291.8,934.1 L292.0,932.6 L292.3,931.1 L292.5,929.7 L292.7,928.2 L293.0,926.7 L293.2,925.2 L293.4,923.7 L293.7,922.2 L293.9,920.7 L294.2,919.3 L294.4,917.8 L294.6,916.3 L294.9,914.8 L295.1,913.3 L295.3,911.8 L295.6,910.3 L295.8,908.9 L296.1,907.4 L296.3,905.9 L296.5,904.4 L296.8,902.9 L297.0,901.4 L297.2,899.9 L297.5,898.5 L297.7,897.0 L297.9,895.5 L298.2,894.0 L298.4,892.5 L298.6,891.0 L298.9,889.5 L299.1,888.1 L299.3,886.6 L299.6,885.1 L299.8,883.6 L300.0,882.1 L300.3,880.6 L300.5,879.1 L300.7,877.7 L300.9,876.2 L301.2,874.7 L301.4,873.2 L301.6,871.7 L301.8,870.2 L302.1,868.7 L302.3,867.2 L302.5,865.8 L302.7,864.3 L303.0,862.8 L303.2,861.3 L303.4,859.8 L303.6,858.3 L303.8,856.8 L304.1,855.3 L304.3,853.9 L304.5,852.4 L304.7,850.9 L304.9,849.4 L305.1,847.9 L305.3,846.4 L305.6,844.9 L305.8,843.4 L306.0,841.9 L306.2,840.4 L306.4,839.0 L306.6,837.5 L306.8,836.0 L307.0,834.5 L307.2,833.0 L307.4,831.5 L307.6,830.0 L307.8,828.5 L308.0,827.0 L308.2,825.5 L308.4,824.0 L308.6,822.5 L308.8,821.1 L309.0,819.6 L309.2,818.1 L309.4,816.6 L309.5,815.1 L309.7,813.6 L309.9,812.1 L310.1,810.6 L310.3,809.1 L310.5,807.6 L310.6,806.1 L310.8,804.6 L311.0,803.1 L311.2,801.6 L311.4,800.1 L311.5,798.6 L311.7,797.1 L311.9,795.6 L312.0,794.1 L312.2,792.6 L312.4,791.1 L312.5,789.6 L312.7,788.1 L312.9,786.7 L313.0,785.2 L313.2,783.7 L313.4,782.2 L313.5,780.7 L313.7,779.2 L313.8,777.7 L314.0,776.2 L314.2,774.7 L314.3,773.2 L314.5,771.7 L314.6,770.2 L314.8,768.7 L314.9,767.2 L315.1,765.7 L315.2,764.2 L315.4,762.7 L315.5,761.2 L315.7,759.7 L315.8,758.2 L315.9,756.7 L316.1,755.2 L316.2,753.7 L316.4,752.2 L316.5,750.7 L316.7,749.2 L316.8,747.7 L316.9,746.2 L317.1,744.7 L317.2,743.2 L317.3,741.7 L317.5,740.2 L317.6,738.7 L317.7,737.3 L317.9,735.8 L318.0,734.3 L318.2,732.8 L318.3,731.3 L318.4,729.8 L318.6,728.3 L318.7,726.8 L318.9,725.3 L319.0,723.8 L319.2,722.3 L319.3,720.8 L319.5,719.3 L319.6,717.8 L319.8,716.4 L320.0,714.9 L320.1,713.4 L320.3,711.9 L320.5,710.4 L320.7,708.9 L320.9,707.4 L321.1,705.9 L321.3,704.4 L321.5,702.9 L321.7,701.4 L322.0,700.0 L322.2,698.5 L322.4,697.0 L322.7,695.5 L323.0,694.0 L323.2,692.5 L323.5,691.0 L323.8,689.5 L324.1,688.1 L324.4,686.6 L324.7,685.1 L325.0,683.6 L325.4,682.1 L325.7,680.6 L326.1,679.1 L326.5,677.6 L326.9,676.2 L327.3,674.7 L327.7,673.2 L328.1,671.7 L328.5,670.2 L329.0,668.8 L329.5,667.4 L330.1,666.1 L330.9,664.9 L331.7,663.9 L332.7,663.1 L333.8,662.5 L335.0,662.3 L336.2,662.4 L337.4,663.0 L338.5,663.8 L339.6,664.8 L340.6,665.9 L341.5,667.2 L342.3,668.6 L343.1,670.0 L343.8,671.4 L344.5,672.8 L345.2,674.2 L345.9,675.6 L346.5,677.0 L347.2,678.3 L347.9,679.6 L348.6,680.9 L349.3,682.3 L349.9,683.6 L350.6,684.9 L351.2,686.3 L351.9,687.6 L352.5,689.0 L353.2,690.3 L353.8,691.7 L354.5,693.0 L355.2,694.4 L355.8,695.7 L356.5,697.0 L357.2,698.4 L357.9,699.7 L358.6,701.0 L359.3,702.4 L360.0,703.7 L360.8,705.0 L361.5,706.3 L362.3,707.6 L363.1,708.8 L363.9,710.1 L364.7,711.3 L365.6,712.6 L366.5,713.8 L367.4,715.0 L368.3,716.2 L369.3,717.3 L370.2,718.5 L371.2,719.6 L372.3,720.7 L373.3,721.8 L374.4,722.9 L375.4,724.0 L376.5,725.0 L377.7,726.0 L378.8,727.0 L380.0,728.0 L381.2,728.9 L382.3,729.9 L383.6,730.8 L384.8,731.6 L386.0,732.5 L387.3,733.3 L388.6,734.1 L389.9,734.9 L391.2,735.7 L392.5,736.4 L393.8,737.1 L395.1,737.8 L396.5,738.4 L397.9,739.1 L399.2,739.7 L400.6,740.2 L402.0,740.8 L403.4,741.3 L404.8,741.8 L406.2,742.3 L407.7,742.8 L409.1,743.2 L410.5,743.6 L412.0,744.0 L413.4,744.4 L414.9,744.7 L416.4,745.1 L417.8,745.4 L419.3,745.7 L420.8,746.0 L422.3,746.3 L423.7,746.5 L425.2,746.8 L426.7,747.0 L428.2,747.2 L429.7,747.5 L431.2,747.7 L432.7,747.8 L434.2,748.0 L435.7,748.2 L437.2,748.3 L438.7,748.5 L440.2,748.6 L441.7,748.8 L443.2,748.9 L444.7,749.0 L446.2,749.1 L447.7,749.2 L449.2,749.3 L450.7,749.4 L452.2,749.5 L453.7,749.5 L455.2,749.6 L456.7,749.6 L458.2,749.7 L459.7,749.7 L461.2,749.8 L462.7,749.8 L464.2,749.8 L465.7,749.8 L467.2,749.8 L468.7,749.9 L470.2,749.9 L471.7,749.9 L473.2,749.8 L474.7,749.8 L476.2,749.8 L477.7,749.8 L479.2,749.8 L480.7,749.7 L482.3,749.7 L483.8,749.7 L485.3,749.6 L486.8,749.6 L488.3,749.6 L489.8,749.5 L491.3,749.5 L492.8,749.4 L494.3,749.4 L495.8,749.3 L497.3,749.3 L498.8,749.2 L500.3,749.1 L501.8,749.1 L503.3,749.0 L504.8,749.0 L506.3,748.9 L507.8,748.9 L509.4,748.8 L510.9,748.7 L512.4,748.7 L513.9,748.6 L515.4,748.6 L516.9,748.5 L518.4,748.5 L519.9,748.4 L521.4,748.3 L522.9,748.3 L524.4,748.2 L525.9,748.2 L527.4,748.1 L528.9,748.0 L530.4,748.0 L531.9,747.9 L533.4,747.9 L534.9,747.8 L536.4,747.8 L537.9,747.7 L539.4,747.6 L540.9,747.6 L542.4,747.5 L543.9,747.5 L545.4,747.4 L546.9,747.3 L548.4,747.3 L549.9,747.2 L551.4,747.2 L552.9,747.1 L554.4,747.0 L555.9,747.0 L557.4,746.9 L558.9,746.8 L560.4,746.8 L562.0,746.7 L563.5,746.7 L565.0,746.6 L566.5,746.5 L568.0,746.5 L569.5,746.4 L571.0,746.4 L572.5,746.3 L574.0,746.2 L575.5,746.2 L577.0,746.1"/>
<path class="c" stroke="#ff00ff" d="M292.2,959.4 L292.5,957.9 L292.7,956.4 L293.0,955.0 L293.3,953.5 L293.6,952.0 L293.8,950.5 L294.1,949.0 L294.4,947.6 L294.7,946.1 L294.9,944.6 L295.2,943.1 L295.5,941.6 L295.7,940.1 L296.0,938.7 L296.3,937.2 L296.6,935.7 L296.8,934.2 L297.1,932.7 L297.4,931.3 L297.6,929.8 L297.9,928.3 L298.2,926.8 L298.4,925.3 L298.7,923.8 L299.0,922.4 L299.2,920.9 L299.5,919.4 L299.8,917.9 L300.0,916.4 L300.3,914.9 L300.5,913.5 L300.8,912.0 L301.1,910.5 L301.3,909.0 L301.6,907.5 L301.8,906.0 L302.1,904.6 L302.3,903.1 L302.6,901.6 L302.9,900.1 L303.1,898.6 L303.4,897.1 L303.6,895.6 L303.9,894.2 L304.1,892.7 L304.4,891.2 L304.6,889.7 L304.9,888.2 L305.1,886.7 L305.4,885.2 L305.6,883.8 L305.8,882.3 L306.1,880.8 L306.3,879.3 L306.6,877.8 L306.8,876.3 L307.1,874.8 L307.3,873.4 L307.5,871.9 L307.8,870.4 L308.0,868.9 L308.2,867.4 L308.5,865.9 L308.7,864.4 L308.9,862.9 L309.2,861.5 L309.4,860.0 L309.6,858.5 L309.8,857.0 L310.1,855.5 L310.3,854.0 L310.5,852.5 L310.7,851.0 L310.9,849.5 L311.2,848.1 L311.4,846.6 L311.6,845.1 L311.8,843.6 L312.0,842.1 L312.2,840.6 L312.4,839.1 L312.7,837.6 L312.9,836.1 L313.1,834.6 L313.3,833.1 L313.5,831.6 L313.7,830.2 L313.9,828.7 L314.1,827.2 L314.3,825.7 L314.5,824.2 L314.7,822.7 L314.9,821.2 L315.0,819.7 L315.2,818.2 L315.4,816.7 L315.6,815.2 L315.8,813.7 L316.0,812.2 L316.2,810.7 L316.3,809.2 L316.5,807.7 L316.7,806.2 L316.9,804.7 L317.1,803.3 L317.2,801.8 L317.4,800.3 L317.6,798.8 L317.8,797.3 L317.9,795.8 L318.1,794.3 L318.3,792.8 L318.5,791.3 L318.6,789.8 L318.8,788.3 L319.0,786.8 L319.2,785.3 L319.3,783.8 L319.5,782.3 L319.7,780.8 L319.9,779.3 L320.1,777.8 L320.2,776.3 L320.4,774.8 L320.6,773.3 L320.8,771.8 L321.0,770.3 L321.2,768.9 L321.4,767.4 L321.6,765.9 L321.8,764.4 L322.0,762.9 L322.2,761.4 L322.4,759.9 L322.6,758.4 L322.8,756.9 L323.0,755.4 L323.2,753.9 L323.4,752.4 L323.7,751.0 L323.9,749.5 L324.1,748.0 L324.3,746.5 L324.6,745.0 L324.8,743.5 L325.1,742.0 L325.4,740.5 L325.7,739.1 L326.1,737.6 L326.4,736.1 L326.9,734.6 L327.3,733.1 L327.8,731.7 L328.3,730.2 L328.9,728.8 L329.6,727.6 L330.5,726.8 L331.4,726.6 L332.4,726.9 L333.2,727.6 L333.9,728.6 L334.5,729.9 L335.1,731.3 L335.6,732.9 L336.2,734.5 L336.7,736.0 L337.2,737.5 L337.7,739.0 L338.2,740.5 L338.7,742.0 L339.2,743.5 L339.7,745.0 L340.2,746.4 L340.6,747.9 L341.1,749.3 L341.6,750.7 L342.0,752.1 L342.5,753.5 L343.0,755.0 L343.4,756.4 L343.8,757.8 L344.3,759.2 L344.7,760.6 L345.1,762.0 L345.5,763.4 L346.0,764.8 L346.4,766.3 L346.8,767.7 L347.2,769.1 L347.5,770.6 L347.9,772.0 L348.3,773.5 L348.7,774.9 L349.1,776.4 L349.4,777.8 L349.8,779.3 L350.2,780.8 L350.6,782.3 L350.9,783.7 L351.3,785.2 L351.7,786.7 L352.1,788.1 L352.5,789.6 L352.9,791.1 L353.3,792.5 L353.7,794.0 L354.2,795.5 L354.6,796.9 L355.0,798.4 L355.5,799.8 L356.0,801.3 L356.4,802.7 L356.9,804.1 L357.5,805.5 L358.0,807.0 L358.5,808.4 L359.1,809.8 L359.7,811.1 L360.3,812.5 L360.9,813.9 L361.5,815.2 L362.2,816.6 L362.8,817.9 L363.5,819.2 L364.3,820.5 L365.0,821.8 L365.8,823.1 L366.6,824.3 L367.4,825.6 L368.3,826.8 L369.2,828.0 L370.1,829.2 L371.0,830.3 L372.0,831.5 L373.0,832.6 L374.0,833.7 L375.1,834.8 L376.2,835.9 L377.3,837.0 L378.4,838.0 L379.5,839.1 L380.6,840.1 L381.7,841.2 L382.8,842.2 L383.9,843.3 L385.0,844.3 L386.1,845.3 L387.2,846.3 L388.3,847.2 L389.5,848.2 L390.6,849.1 L391.8,850.0 L393.1,850.9 L394.3,851.7 L395.6,852.6 L396.8,853.4 L398.1,854.2 L399.4,854.9 L400.8,855.7 L402.1,856.4 L403.4,857.0 L404.8,857.7 L406.2,858.3 L407.5,859.0 L408.9,859.6 L410.3,860.1 L411.7,860.7 L413.1,861.2 L414.5,861.7 L415.9,862.2 L417.3,862.7 L418.8,863.2 L420.2,863.7 L421.7,864.1 L423.1,864.5 L424.6,864.9 L426.0,865.3 L427.5,865.7 L428.9,866.1 L430.4,866.5 L431.9,866.8 L433.3,867.2 L434.8,867.5 L436.3,867.9 L437.7,868.2 L439.2,868.5 L440.7,868.8 L442.2,869.2 L443.6,869.5 L445.1,869.8 L446.6,870.1 L448.1,870.3 L449.5,870.6 L451.0,870.9 L452.5,871.2 L454.0,871.4 L455.5,871.7 L457.0,872.0 L458.4,872.2 L459.9,872.5 L461.4,872.7 L462.9,872.9 L464.4,873.2 L465.9,873.4 L467.4,873.6 L468.8,873.8 L470.3,874.0 L471.8,874.2 L473.3,874.4 L474.8,874.6 L476.3,874.8 L477.8,875.0 L479.3,875.2 L480.8,875.4 L482.3,875.5 L483.8,875.7 L485.3,875.9 L486.8,876.0 L488.3,876.2 L489.8,876.3 L491.3,876.5 L492.8,876.6 L494.3,876.8 L495.8,876.9 L497.3,877.0 L498.8,877.2 L500.3,877.3 L501.8,877.4 L503.3,877.5 L504.8,877.6 L506.3,877.8 L507.8,877.9 L509.3,878.0 L510.8,878.1 L512.3,878.2 L513.8,878.3 L515.3,878.4 L516.8,878.5 L518.3,878.6 L519.8,878.6 L521.3,878.7 L522.8,878.8 L524.3,878.9 L525.8,879.0 L527.3,879.1 L528.8,879.1 L530.3,879.2 L531.8,879.3 L533.3,879.3 L534.9,879.4 L536.4,879.5 L537.9,879.5 L539.4,879.6 L540.9,879.7 L542.4,879.7 L543.9,879.8 L545.4,879.8 L546.9,879.9 L548.4,879.9 L549.9,880.0 L551.4,880.0 L552.9,880.1 L554.4,880.1 L555.9,880.2 L557.4,880.2 L558.9,880.3 L560.5,880.3 L562.0,880.4 L563.5,880.4 L565.0,880.5 L566.5,880.5 L568.0,880.5 L569.5,880.6 L571.0,880.6 L572.5,880.7 L574.0,880.7 L575.5,880.8 L577.0,880.8"/>
<path class="c" stroke="#00ffff" d="M302.3,959.4 L302.5,957.9 L302.7,956.4 L302.9,954.9 L303.1,953.4 L303.3,951.9 L303.5,950.4 L303.7,948.9 L303.9,947.4 L304.1,945.9 L304.3,944.4 L304.5,942.9 L304.7,941.5 L304.8,940.0 L305.0,938.5 L305.2,937.0 L305.4,935.5 L305.6,934.0 L305.8,932.5 L306.0,931.0 L306.2,929.5 L306.4,928.0 L306.6,926.5 L306.8,925.0 L307.0,923.5 L307.2,922.0 L307.4,920.5 L307.6,919.0 L307.8,917.5 L308.0,916.0 L308.2,914.5 L308.3,913.0 L308.5,911.5 L308.7,910.0 L308.9,908.5 L309.1,907.0 L309.3,905.5 L309.5,904.0 L309.7,902.5 L309.9,901.0 L310.1,899.5 L310.3,898.0 L310.5,896.6 L310.6,895.1 L310.8,893.6 L311.0,892.1 L311.2,890.6 L311.4,889.1 L311.6,887.6 L311.8,886.1 L312.0,884.6 L312.2,883.1 L312.3,881.6 L312.5,880.1 L312.7,878.6 L312.9,877.1 L313.1,875.6 L313.3,874.1 L313.5,872.6 L313.6,871.1 L313.8,869.6 L314.0,868.1 L314.2,866.6 L314.4,865.1 L314.6,863.6 L314.7,862.1 L314.9,860.6 L315.1,859.1 L315.3,857.6 L315.5,856.1 L315.6,854.6 L315.8,853.1 L316.0,851.6 L316.2,850.1 L316.3,848.6 L316.5,847.1 L316.7,845.6 L316.9,844.1 L317.1,842.6 L317.2,841.1 L317.4,839.6 L317.6,838.1 L317.7,836.6 L317.9,835.1 L318.1,833.6 L318.3,832.1 L318.4,830.6 L318.6,829.1 L318.8,827.6 L318.9,826.1 L319.1,824.6 L319.3,823.2 L319.4,821.7 L319.6,820.2 L319.8,818.7 L319.9,817.2 L320.1,815.7 L320.3,814.2 L320.4,812.7 L320.6,811.2 L320.8,809.7 L320.9,808.2 L321.1,806.7 L321.3,805.2 L321.4,803.7 L321.6,802.2 L321.8,800.7 L321.9,799.2 L322.1,797.7 L322.3,796.2 L322.4,794.7 L322.6,793.2 L322.8,791.7 L322.9,790.2 L323.1,788.7 L323.3,787.2 L323.4,785.7 L323.6,784.2 L323.8,782.7 L323.9,781.2 L324.1,779.7 L324.3,778.2 L324.4,776.7 L324.6,775.1 L324.8,773.6 L324.9,772.1 L325.1,770.6 L325.3,769.1 L325.4,767.6 L325.6,766.1 L325.8,764.6 L326.0,763.1 L326.2,761.6 L326.3,760.1 L326.5,758.6 L326.7,757.1 L327.0,755.6 L327.2,754.1 L327.4,752.6 L327.7,751.2 L327.9,749.7 L328.2,748.2 L328.5,746.7 L328.8,745.3 L329.1,743.8 L329.4,742.4 L329.8,740.9 L330.2,739.5 L330.6,738.0 L331.0,736.6 L331.4,735.2 L331.9,733.8 L332.5,732.4 L333.0,731.0 L333.7,729.6 L334.3,728.2 L335.1,726.9 L335.8,725.5 L336.7,724.2 L337.6,722.8 L338.6,721.6 L339.7,720.3 L340.9,719.3 L342.1,718.7 L343.2,718.8 L344.2,719.3 L345.2,720.2 L346.2,721.4 L347.1,722.6 L348.1,723.8 L349.0,725.1 L350.0,726.3 L351.0,727.5 L351.9,728.7 L352.9,729.8 L353.9,731.0 L354.9,732.1 L355.9,733.2 L357.0,734.4 L358.0,735.5 L359.1,736.5 L360.1,737.6 L361.2,738.6 L362.3,739.6 L363.4,740.6 L364.6,741.6 L365.7,742.6 L366.9,743.5 L368.0,744.4 L369.2,745.3 L370.5,746.1 L371.7,747.0 L372.9,747.8 L374.2,748.6 L375.5,749.3 L376.8,750.1 L378.1,750.8 L379.4,751.5 L380.8,752.2 L382.1,752.9 L383.5,753.6 L384.8,754.2 L386.2,754.9 L387.6,755.5 L389.0,756.1 L390.3,756.8 L391.7,757.4 L393.1,758.0 L394.5,758.7 L395.9,759.3 L397.3,759.9 L398.6,760.6 L400.0,761.2 L401.4,761.9 L402.8,762.5 L404.1,763.2 L405.5,763.8 L406.8,764.5 L408.2,765.1 L409.6,765.8 L410.9,766.5 L412.3,767.2 L413.6,767.8 L415.0,768.5 L416.3,769.2 L417.7,769.9 L419.0,770.6 L420.3,771.3 L421.7,771.9 L423.0,772.6 L424.4,773.3 L425.7,774.0 L427.0,774.7 L428.4,775.4 L429.7,776.1 L431.1,776.8 L432.4,777.4 L433.7,778.1 L435.1,778.8 L436.4,779.5 L437.8,780.2 L439.1,780.9 L440.5,781.5 L441.8,782.2 L443.1,782.9 L444.5,783.5 L445.9,784.2 L447.2,784.9 L448.6,785.5 L449.9,786.2 L451.3,786.8 L452.6,787.5 L454.0,788.1 L455.4,788.7 L456.7,789.4 L458.1,790.0 L459.5,790.6 L460.9,791.2 L462.3,791.8 L463.7,792.4 L465.0,793.0 L466.4,793.6 L467.8,794.2 L469.2,794.8 L470.6,795.3 L472.0,795.9 L473.4,796.4 L474.9,797.0 L476.3,797.5 L477.7,798.1 L479.1,798.6 L480.5,799.1 L481.9,799.6 L483.4,800.1 L484.8,800.6 L486.2,801.1 L487.7,801.5 L489.1,802.0 L490.5,802.5 L492.0,802.9 L493.4,803.4 L494.9,803.8 L496.3,804.2 L497.8,804.6 L499.2,805.0 L500.7,805.4 L502.1,805.8 L503.6,806.1 L505.1,806.5 L506.5,806.9 L508.0,807.2 L509.5,807.5 L510.9,807.8 L512.4,808.1 L513.9,808.4 L515.4,808.7 L516.9,809.0 L518.3,809.2 L519.8,809.5 L521.3,809.7 L522.8,809.9 L524.3,810.2 L525.8,810.4 L527.3,810.6 L528.8,810.7 L530.3,810.9 L531.8,811.1 L533.3,811.2 L534.8,811.4 L536.3,811.5 L537.8,811.7 L539.3,811.8 L540.8,811.9 L542.3,812.0 L543.8,812.1 L545.3,812.2 L546.8,812.3 L548.3,812.4 L549.9,812.5 L551.4,812.6 L552.9,812.6 L554.4,812.7 L555.9,812.8 L557.4,812.8 L558.9,812.9 L560.4,812.9 L561.9,813.0 L563.4,813.0 L565.0,813.0 L566.5,813.1 L568.0,813.1 L569.5,813.1 L571.0,813.1 L572.5,813.2 L574.0,813.2 L575.5,813.2 L577.0,813.2"/>
<path class="c" stroke="#00ffff" d="M290.1,959.4 L290.4,957.9 L290.6,956.4 L290.9,954.9 L291.1,953.5 L291.4,952.0 L291.6,950.5 L291.9,949.0 L292.1,947.5 L292.4,946.0 L292.6,944.5 L292.9,943.1 L293.1,941.6 L293.4,940.1 L293.6,938.6 L293.9,937.1 L294.1,935.6 L294.4,934.1 L294.6,932.6 L294.9,931.2 L295.1,929.7 L295.4,928.2 L295.6,926.7 L295.9,925.2 L296.1,923.7 L296.4,922.2 L296.6,920.7 L296.8,919.3 L297.1,917.8 L297.3,916.3 L297.6,914.8 L297.8,913.3 L298.1,911.8 L298.3,910.3 L298.5,908.8 L298.8,907.3 L299.0,905.9 L299.2,904.4 L299.5,902.9 L299.7,901.4 L299.9,899.9 L300.2,898.4 L300.4,896.9 L300.6,895.4 L300.9,893.9 L301.1,892.4 L301.3,891.0 L301.6,889.5 L301.8,888.0 L302.0,886.5 L302.2,885.0 L302.5,883.5 L302.7,882.0 L302.9,880.5 L303.1,879.0 L303.3,877.5 L303.6,876.0 L303.8,874.6 L304.0,873.1 L304.2,871.6 L304.4,870.1 L304.6,868.6 L304.9,867.1 L305.1,865.6 L305.3,864.1 L305.5,862.6 L305.7,861.1 L305.9,859.6 L306.1,858.1 L306.3,856.6 L306.5,855.1 L306.7,853.6 L306.9,852.2 L307.1,850.7 L307.3,849.2 L307.5,847.7 L307.7,846.2 L307.9,844.7 L308.1,843.2 L308.3,841.7 L308.5,840.2 L308.7,838.7 L308.9,837.2 L309.1,835.7 L309.2,834.2 L309.4,832.7 L309.6,831.2 L309.8,829.7 L310.0,828.2 L310.2,826.7 L310.3,825.2 L310.5,823.7 L310.7,822.2 L310.9,820.7 L311.0,819.2 L311.2,817.7 L311.4,816.2 L311.6,814.7 L311.7,813.3 L311.9,811.8 L312.1,810.3 L312.2,808.8 L312.4,807.3 L312.5,805.8 L312.7,804.3 L312.9,802.8 L313.0,801.3 L313.2,799.8 L313.3,798.3 L313.5,796.8 L313.6,795.3 L313.8,793.8 L313.9,792.3 L314.1,790.8 L314.3,789.3 L314.4,787.8 L314.6,786.3 L314.7,784.8 L314.9,783.3 L315.0,781.8 L315.2,780.3 L315.3,778.8 L315.5,777.3 L315.6,775.8 L315.8,774.3 L315.9,772.8 L316.1,771.3 L316.2,769.8 L316.4,768.3 L316.5,766.8 L316.7,765.3 L316.8,763.8 L317.0,762.3 L317.1,760.8 L317.3,759.3 L317.4,757.8 L317.6,756.3 L317.7,754.8 L317.9,753.3 L318.0,751.8 L318.2,750.3 L318.3,748.8 L318.5,747.3 L318.7,745.8 L318.8,744.3 L319.0,742.8 L319.1,741.3 L319.3,739.8 L319.5,738.3 L319.6,736.8 L319.8,735.3 L320.0,733.8 L320.1,732.3 L320.3,730.8 L320.5,729.3 L320.7,727.8 L320.8,726.3 L321.0,724.8 L321.2,723.3 L321.4,721.8 L321.6,720.3 L321.7,718.8 L321.9,717.3 L322.1,715.8 L322.3,714.3 L322.5,712.8 L322.7,711.3 L322.9,709.8 L323.1,708.3 L323.3,706.8 L323.5,705.3 L323.7,703.8 L323.9,702.3 L324.1,700.9 L324.3,699.4 L324.6,697.9 L324.8,696.4 L325.0,694.9 L325.2,693.4 L325.5,691.9 L325.7,690.4 L325.9,688.9 L326.2,687.4 L326.4,685.9 L326.6,684.4 L326.9,682.9 L327.1,681.5 L327.4,680.0 L327.6,678.5 L327.9,677.0 L328.2,675.5 L328.4,674.0 L328.7,672.5 L329.1,671.1 L329.6,669.7 L330.2,668.3 L330.9,666.9 L331.8,665.7 L332.8,664.6 L334.0,663.9 L335.2,663.7 L336.4,663.9 L337.6,664.4 L338.7,665.3 L339.6,666.4 L340.5,667.7 L341.3,669.1 L342.1,670.5 L342.8,672.0 L343.6,673.5 L344.3,674.9 L345.0,676.2 L345.6,677.5 L346.3,678.8 L347.0,680.1 L347.8,681.3 L348.5,682.6 L349.3,683.8 L350.0,685.1 L350.8,686.4 L351.6,687.6 L352.4,688.9 L353.3,690.2 L354.1,691.4 L355.0,692.7 L355.9,693.9 L356.8,695.1 L357.7,696.3 L358.7,697.5 L359.7,698.7 L360.7,699.8 L361.7,701.0 L362.7,702.1 L363.7,703.2 L364.8,704.3 L365.9,705.3 L367.0,706.3 L368.2,707.3 L369.3,708.3 L370.5,709.2 L371.7,710.1 L373.0,710.9 L374.2,711.8 L375.5,712.5 L376.8,713.3 L378.1,714.0 L379.4,714.7 L380.7,715.4 L382.1,716.0 L383.5,716.6 L384.9,717.1 L386.3,717.7 L387.7,718.2 L389.1,718.6 L390.6,719.1 L392.0,719.5 L393.5,719.8 L394.9,720.2 L396.4,720.5 L397.9,720.8 L399.4,721.1 L400.9,721.3 L402.3,721.5 L403.8,721.7 L405.3,721.8 L406.9,721.9 L408.4,722.0 L409.9,722.1 L411.4,722.1 L412.9,722.1 L414.4,722.1 L415.9,722.1 L417.4,722.0 L418.9,721.9 L420.4,721.8 L421.9,721.7 L423.4,721.5 L424.9,721.4 L426.4,721.2 L427.9,720.9 L429.4,720.7 L430.9,720.5 L432.4,720.2 L433.9,719.9 L435.4,719.6 L436.9,719.3 L438.3,718.9 L439.8,718.6 L441.3,718.2 L442.7,717.8 L444.2,717.4 L445.6,717.0 L447.1,716.6 L448.5,716.2 L450.0,715.7 L451.4,715.2 L452.8,714.8 L454.2,714.3 L455.7,713.8 L457.1,713.3 L458.5,712.8 L459.9,712.2 L461.3,711.7 L462.7,711.2 L464.1,710.6 L465.5,710.1 L466.9,709.5 L468.3,708.9 L469.7,708.3 L471.1,707.8 L472.4,707.2 L473.8,706.6 L475.2,706.0 L476.6,705.4 L478.0,704.8 L479.3,704.1 L480.7,703.5 L482.1,702.9 L483.5,702.3 L484.9,701.7 L486.2,701.1 L487.6,700.4 L489.0,699.8 L490.4,699.2 L491.7,698.6 L493.1,698.0 L494.5,697.4 L495.9,696.7 L497.3,696.1 L498.6,695.5 L500.0,694.9 L501.4,694.3 L502.8,693.7 L504.2,693.1 L505.6,692.5 L507.0,692.0 L508.4,691.4 L509.8,690.8 L511.2,690.3 L512.6,689.7 L514.0,689.2 L515.4,688.6 L516.8,688.1 L518.2,687.6 L519.6,687.0 L521.1,686.5 L522.5,686.0 L523.9,685.5 L525.3,685.1 L526.8,684.6 L528.2,684.1 L529.6,683.7 L531.1,683.2 L532.5,682.8 L533.9,682.4 L535.4,682.0 L536.8,681.6 L538.3,681.2 L539.7,680.8 L541.2,680.4 L542.7,680.1 L544.1,679.7 L545.6,679.4 L547.1,679.1 L548.5,678.8 L550.0,678.5 L551.5,678.2 L552.9,677.9 L554.4,677.7 L555.9,677.4 L557.4,677.2 L558.9,677.0 L560.4,676.8 L561.9,676.6 L563.4,676.4 L564.9,676.3 L566.4,676.1 L567.9,676.0 L569.4,675.9 L570.9,675.8 L572.4,675.7 L574.0,675.7 L575.5,675.6 L577.0,675.6"/>
<path class="c" stroke="#00ffff" d="M307.1,959.4 L307.3,957.9 L307.4,956.4 L307.6,954.9 L307.8,953.4 L307.9,951.9 L308.1,950.4 L308.3,948.9 L308.5,947.4 L308.6,945.9 L308.8,944.4 L309.0,942.9 L309.1,941.4 L309.3,939.9 L309.5,938.4 L309.7,936.9 L309.8,935.4 L310.0,933.9 L310.2,932.4 L310.4,930.9 L310.5,929.4 L310.7,927.9 L310.9,926.4 L311.1,924.9 L311.3,923.4 L311.4,921.9 L311.6,920.4 L311.8,918.9 L312.0,917.4 L312.1,915.9 L312.3,914.4 L312.5,912.9 L312.7,911.4 L312.9,909.9 L313.0,908.4 L313.2,906.9 L313.4,905.4 L313.6,903.9 L313.7,902.4 L313.9,900.9 L314.1,899.4 L314.3,897.9 L314.4,896.4 L314.6,894.9 L314.8,893.4 L314.9,891.9 L315.1,890.4 L315.3,888.9 L315.5,887.4 L315.6,885.9 L315.8,884.4 L316.0,882.9 L316.1,881.4 L316.3,879.9 L316.5,878.4 L316.6,876.9 L316.8,875.4 L316.9,873.9 L317.1,872.4 L317.3,870.9 L317.4,869.4 L317.6,867.9 L317.7,866.3 L317.9,864.8 L318.0,863.3 L318.2,861.8 L318.3,860.3 L318.5,858.8 L318.6,857.3 L318.8,855.8 L318.9,854.3 L319.1,852.8 L319.2,851.3 L319.4,849.8 L319.5,848.3 L319.6,846.8 L319.8,845.3 L319.9,843.8 L320.0,842.3 L320.2,840.8 L320.3,839.3 L320.5,837.8 L320.6,836.3 L320.7,834.8 L320.9,833.3 L321.0,831.8 L321.2,830.3 L321.3,828.8 L321.4,827.3 L321.6,825.8 L321.7,824.3 L321.9,822.8 L322.0,821.3 L322.2,819.8 L322.3,818.2 L322.5,816.7 L322.6,815.2 L322.8,813.7 L322.9,812.2 L323.1,810.7 L323.2,809.2 L323.4,807.7 L323.6,806.2 L323.7,804.7 L323.9,803.1 L324.1,801.6 L324.3,800.1 L324.4,798.6 L324.6,797.2 L324.8,795.7 L325.0,794.2 L325.2,792.8 L325.4,791.4 L325.7,789.9 L325.9,788.5 L326.2,787.0 L326.5,785.5 L326.8,784.0 L327.2,782.4 L327.6,780.8 L328.1,779.1 L328.7,777.5 L329.3,776.1 L330.1,775.0 L330.9,774.3 L332.0,774.1 L333.0,774.6 L334.0,775.4 L335.0,776.5 L335.8,777.7 L336.6,778.9 L337.3,780.2 L338.0,781.6 L338.6,783.0 L339.1,784.4 L339.7,785.8 L340.2,787.3 L340.7,788.7 L341.2,790.2 L341.7,791.6 L342.2,793.1 L342.6,794.5 L343.1,796.0 L343.5,797.4 L344.0,798.9 L344.4,800.3 L344.8,801.8 L345.3,803.2 L345.7,804.7 L346.1,806.2 L346.5,807.6 L346.9,809.1 L347.3,810.5 L347.7,812.0 L348.0,813.4 L348.4,814.9 L348.8,816.3 L349.2,817.8 L349.5,819.3 L349.9,820.7 L350.3,822.2 L350.6,823.6 L351.0,825.1 L351.4,826.6 L351.7,828.0 L352.1,829.5 L352.5,830.9 L352.9,832.4 L353.2,833.9 L353.6,835.3 L354.0,836.8 L354.4,838.2 L354.8,839.7 L355.2,841.2 L355.6,842.6 L356.0,844.1 L356.4,845.5 L356.8,847.0 L357.2,848.4 L357.6,849.9 L358.1,851.4 L358.5,852.8 L359.0,854.2 L359.4,855.7 L359.9,857.1 L360.4,858.6 L360.8,860.0 L361.3,861.4 L361.8,862.9 L362.3,864.3 L362.9,865.7 L363.4,867.1 L364.0,868.5 L364.5,869.9 L365.1,871.3 L365.7,872.7 L366.3,874.1 L366.9,875.5 L367.5,876.8 L368.1,878.2 L368.8,879.5 L369.5,880.9 L370.1,882.2 L370.8,883.6 L371.5,884.9 L372.3,886.2 L373.0,887.5 L373.8,888.8 L374.5,890.1 L375.3,891.4 L376.1,892.6 L376.9,893.9 L377.8,895.2 L378.6,896.4 L379.5,897.7 L380.3,898.9 L381.2,900.1 L382.1,901.4 L383.0,902.6 L383.9,903.8 L384.8,905.0 L385.7,906.2 L386.6,907.4 L387.5,908.6 L388.5,909.8 L389.4,911.0 L390.4,912.2 L391.3,913.4 L392.3,914.5 L393.3,915.7 L394.2,916.9 L395.2,918.0 L396.2,919.2 L397.2,920.4 L398.1,921.5 L399.1,922.7 L400.1,923.8 L401.1,925.0 L402.1,926.2 L403.0,927.3 L404.0,928.5 L405.0,929.6 L406.0,930.8 L407.0,931.9 L408.0,933.0 L408.9,934.2 L410.0,935.3 L411.0,936.4 L412.0,937.5 L413.0,938.6 L414.1,939.6 L415.2,940.7 L416.2,941.7 L417.4,942.7 L418.5,943.7 L419.6,944.7 L420.8,945.6 L422.0,946.5 L423.2,947.4 L424.5,948.3 L425.7,949.1 L427.0,949.9 L428.3,950.7 L429.6,951.5 L430.9,952.3 L432.2,953.1 L433.5,953.9 L434.8,954.7 L436.1,955.4 L437.4,956.2 L438.7,957.0 L440.0,957.8 L441.3,958.6 L442.5,959.4"/>
<path class="c" stroke="#00ffff" d="M320.5,959.4 L320.6,957.9 L320.7,956.4 L320.8,954.8 L320.9,953.3 L321.0,951.8 L321.1,950.3 L321.2,948.8 L321.3,947.3 L321.4,945.7 L321.5,944.2 L321.6,942.7 L321.7,941.2 L321.8,939.7 L321.9,938.2 L322.0,936.7 L322.1,935.1 L322.2,933.6 L322.3,932.1 L322.4,930.6 L322.6,929.1 L322.7,927.6 L322.8,926.0 L322.9,924.5 L323.0,923.0 L323.1,921.5 L323.3,920.0 L323.4,918.4 L323.6,916.9 L323.7,915.4 L323.9,913.9 L324.1,912.4 L324.3,910.9 L324.6,909.5 L324.9,908.0 L325.2,906.5 L325.6,905.0 L326.1,903.6 L326.7,902.1 L327.4,900.4 L328.3,898.8 L329.4,898.3 L330.5,898.9 L331.5,899.8 L332.4,900.8 L333.1,902.0 L333.7,903.3 L334.2,904.6 L334.6,906.1 L335.0,907.5 L335.3,909.1 L335.6,910.6 L335.8,912.2 L336.1,913.8 L336.4,915.3 L336.7,916.8 L337.0,918.3 L337.4,919.8 L337.7,921.3 L338.1,922.7 L338.5,924.2 L338.8,925.6 L339.2,927.1 L339.6,928.5 L340.0,930.0 L340.4,931.4 L340.8,932.9 L341.2,934.3 L341.5,935.8 L341.9,937.3 L342.3,938.8 L342.7,940.2 L343.1,941.7 L343.5,943.2 L343.8,944.7 L344.2,946.2 L344.6,947.7 L345.0,949.1 L345.4,950.6 L345.8,952.1 L346.1,953.6 L346.5,955.0 L346.9,956.5 L347.3,958.0 L347.7,959.4"/>
<path class="c" stroke="#00ffff" d="M347.7,959.4 L348.1,958.0 L348.5,956.5 L348.8,955.1 L349.2,953.6 L349.5,952.1 L349.9,950.7 L350.2,949.2 L350.5,947.7 L350.9,946.3 L351.2,944.8 L351.6,943.3 L351.9,941.8 L352.3,940.3 L352.7,938.9 L353.1,937.4 L353.5,935.9 L353.9,934.4 L354.3,933.0 L354.8,931.5 L355.3,930.1 L355.8,928.6 L356.3,927.2 L356.9,925.8 L357.5,924.4 L358.1,923.0 L358.7,921.6 L359.4,920.3 L360.1,918.9 L360.8,917.6 L361.6,916.3 L362.4,915.0 L363.3,913.8 L364.1,912.6 L365.0,911.4 L366.0,910.2 L367.0,909.1 L368.0,908.0 L369.0,906.9 L370.1,905.9 L371.2,904.9 L372.3,903.9 L373.5,903.0 L374.7,902.1 L376.0,901.3 L377.2,900.4 L378.5,899.7 L379.8,898.9 L381.1,898.2 L382.5,897.5 L383.8,896.8 L385.2,896.2 L386.5,895.6 L387.9,895.0 L389.3,894.5 L390.8,893.9 L392.2,893.4 L393.6,892.9 L395.0,892.5 L396.5,892.0 L398.0,891.6 L399.4,891.2 L400.9,890.8 L402.4,890.4 L403.8,890.0 L405.3,889.6 L406.8,889.3 L408.3,888.9 L409.8,888.6 L411.3,888.2 L412.8,887.9 L414.2,887.6 L415.7,887.2 L417.2,886.9 L418.7,886.6 L420.2,886.2 L421.7,885.9 L423.1,885.5 L424.6,885.2 L426.1,884.8 L427.6,884.5 L429.0,884.2 L430.5,883.8 L432.0,883.4 L433.4,883.1 L434.9,882.7 L436.4,882.4 L437.8,882.0 L439.3,881.7 L440.7,881.3 L442.2,880.9 L443.7,880.6 L445.1,880.2 L446.6,879.8 L448.0,879.5 L449.5,879.1 L451.0,878.7 L452.4,878.4 L453.9,878.0 L455.4,877.6 L456.8,877.3 L458.3,876.9 L459.8,876.5 L461.2,876.2 L462.7,875.8 L464.2,875.4 L465.6,875.0 L467.1,874.6 L468.6,874.2 L470.0,873.8 L471.5,873.4 L473.0,873.0 L474.4,872.6 L475.9,872.2 L477.3,871.7 L478.8,871.3 L480.2,870.8 L481.7,870.4 L483.1,869.9 L484.5,869.4 L486.0,868.9 L487.4,868.4 L488.8,867.8 L490.2,867.3 L491.6,866.7 L493.0,866.1 L494.4,865.6 L495.8,865.0 L497.2,864.4 L498.5,863.7 L499.9,863.1 L501.3,862.5 L502.6,861.8 L504.0,861.1 L505.4,860.5 L506.7,859.8 L508.0,859.1 L509.4,858.4 L510.7,857.6 L512.0,856.9 L513.3,856.2 L514.7,855.4 L516.0,854.7 L517.3,853.9 L518.6,853.1 L519.9,852.3 L521.2,851.5 L522.4,850.7 L523.7,849.9 L525.0,849.1 L526.3,848.3 L527.5,847.5 L528.8,846.6 L530.0,845.8 L531.3,845.0 L532.5,844.1 L533.8,843.3 L535.0,842.4 L536.3,841.5 L537.5,840.7 L538.8,839.8 L540.0,838.9 L541.2,838.0 L542.5,837.1 L543.7,836.3 L544.9,835.4 L546.1,834.5 L547.4,833.6 L548.6,832.7 L549.8,831.8 L551.0,830.9 L552.3,830.0 L553.5,829.1 L554.7,828.3 L555.9,827.4 L557.2,826.5 L558.4,825.6 L559.6,824.7 L560.8,823.8 L562.1,822.9 L563.3,822.0 L564.5,821.2 L565.8,820.3 L567.0,819.4 L568.2,818.5 L569.5,817.7 L570.7,816.8 L572.0,816.0 L573.2,815.1 L574.5,814.3 L575.7,813.4 L577.0,812.6"/>
<path class="c" stroke="#000000" d="M319.6,959.4 L319.7,957.9 L319.9,956.4 L320.0,954.9 L320.2,953.4 L320.3,951.9 L320.5,950.4 L320.6,948.9 L320.7,947.4 L320.9,945.9 L321.0,944.4 L321.2,942.9 L321.3,941.4 L321.5,939.9 L321.6,938.4 L321.8,936.9 L321.9,935.4 L322.1,933.9 L322.2,932.4 L322.3,930.9 L322.5,929.4 L322.6,927.9 L322.8,926.4 L322.9,925.0 L323.1,923.5 L323.2,922.0 L323.4,920.5 L323.5,919.0 L323.7,917.5 L323.8,916.0 L324.0,914.5 L324.1,913.0 L324.3,911.5 L324.4,910.0 L324.6,908.5 L324.8,907.0 L324.9,905.5 L325.1,904.0 L325.2,902.5 L325.4,901.0 L325.5,899.5 L325.7,898.0 L325.9,896.5 L326.0,895.0 L326.2,893.5 L326.4,892.0 L326.5,890.5 L326.7,889.0 L326.9,887.5 L327.0,886.0 L327.2,884.5 L327.4,883.0 L327.5,881.6 L327.7,880.1 L327.9,878.6 L328.1,877.1 L328.2,875.6 L328.4,874.1 L328.6,872.6 L328.8,871.1 L329.0,869.6 L329.1,868.1 L329.3,866.6 L329.5,865.1 L329.7,863.6 L329.9,862.1 L330.1,860.6 L330.3,859.1 L330.5,857.7 L330.6,856.2 L330.8,854.7 L331.0,853.2 L331.2,851.7 L331.4,850.2 L331.6,848.7 L331.8,847.2 L332.1,845.7 L332.3,844.2 L332.5,842.7 L332.7,841.3 L332.9,839.8 L333.1,838.3 L333.3,836.8 L333.5,835.3 L333.8,833.8 L334.0,832.3 L334.2,830.8 L334.4,829.3 L334.7,827.9 L334.9,826.4 L335.1,824.9 L335.3,823.4 L335.6,821.9 L335.8,820.4 L336.1,818.9 L336.3,817.5 L336.5,816.0 L336.8,814.5 L337.0,813.0 L337.3,811.5 L337.5,810.0 L337.7,808.5 L338.0,807.1 L338.2,805.6 L338.5,804.1 L338.7,802.6 L339.0,801.1 L339.2,799.6 L339.5,798.1 L339.7,796.7 L340.0,795.2 L340.2,793.7 L340.5,792.2 L340.7,790.7 L340.9,789.2 L341.2,787.8 L341.4,786.3 L341.7,784.8 L341.9,783.3 L342.1,781.8 L342.4,780.3 L342.6,778.8 L342.8,777.4 L343.1,775.9 L343.3,774.4 L343.5,772.9 L343.7,771.4 L344.0,769.9 L344.2,768.4 L344.4,766.9 L344.6,765.4 L344.8,764.0 L345.0,762.5 L345.2,761.0 L345.4,759.5 L345.6,758.0 L345.8,756.5 L346.0,755.0 L346.2,753.5 L346.4,752.0 L346.6,750.5 L346.8,749.0 L346.9,747.5 L347.1,746.0 L347.3,744.5 L347.5,743.0 L347.7,741.6 L347.9,740.1 L348.0,738.6 L348.2,737.1 L348.4,735.6 L348.6,734.1 L348.8,732.6 L348.9,731.1 L349.1,729.6 L349.3,728.1 L349.5,726.6 L349.7,725.1 L349.9,723.6 L350.1,722.1 L350.3,720.6 L350.5,719.2 L350.7,717.7 L350.9,716.2 L351.1,714.7 L351.4,713.2 L351.6,711.7 L351.8,710.2 L352.0,708.7 L352.3,707.3 L352.5,705.8 L352.8,704.3 L353.0,702.8 L353.3,701.3 L353.6,699.8 L353.8,698.4 L354.1,696.9 L354.4,695.4 L354.7,693.9 L355.0,692.5 L355.3,691.0 L355.6,689.5 L355.9,688.0 L356.3,686.6 L356.6,685.1 L357.0,683.7 L357.4,682.2 L357.7,680.8 L358.1,679.3 L358.6,677.9 L359.0,676.4 L359.4,675.0 L359.9,673.6 L360.4,672.1 L360.9,670.7 L361.4,669.3 L361.9,667.9 L362.5,666.5 L363.0,665.1 L363.6,663.7 L364.2,662.4 L364.9,661.0 L365.5,659.6 L366.2,658.3 L366.9,656.9 L367.6,655.6 L368.4,654.2 L369.2,652.9 L370.0,651.6 L370.8,650.3 L371.7,649.0 L372.6,647.8 L373.7,646.7 L374.7,645.7 L375.9,644.8 L377.1,644.1 L378.3,643.4 L379.6,642.7 L381.0,642.2 L382.4,641.7 L383.8,641.3 L385.2,641.0 L386.7,640.7 L388.2,640.4 L389.7,640.2 L391.1,640.0 L392.6,639.9 L394.1,639.8 L395.6,639.7 L397.1,639.6 L398.6,639.6 L400.1,639.6 L401.6,639.6 L403.1,639.7 L404.6,639.8 L406.2,639.8 L407.7,640.0 L409.2,640.1 L410.7,640.2 L412.2,640.4 L413.7,640.5 L415.2,640.7 L416.7,640.9 L418.2,641.1 L419.7,641.3 L421.3,641.5 L422.8,641.7 L424.3,641.9 L425.8,642.1 L427.2,642.3 L428.7,642.5 L430.2,642.8 L431.7,643.0 L433.2,643.2 L434.7,643.4 L436.2,643.7 L437.7,643.9 L439.1,644.1 L440.6,644.4 L442.1,644.6 L443.6,644.8 L445.0,645.1 L446.5,645.3 L448.0,645.6 L449.4,645.9 L450.9,646.1 L452.4,646.4 L453.9,646.7 L455.3,647.0 L456.8,647.3 L458.3,647.6 L459.7,647.9 L461.2,648.2 L462.7,648.5 L464.1,648.8 L465.6,649.2 L467.1,649.5 L468.5,649.8 L470.0,650.2 L471.5,650.5 L472.9,650.9 L474.4,651.3 L475.8,651.6 L477.3,652.0 L478.8,652.4 L480.2,652.8 L481.7,653.2 L483.1,653.6 L484.6,654.0 L486.0,654.5 L487.5,654.9 L488.9,655.3 L490.3,655.8 L491.8,656.2 L493.2,656.7 L494.7,657.1 L496.1,657.6 L497.5,658.1 L499.0,658.6 L500.4,659.1 L501.8,659.6 L503.2,660.1 L504.6,660.6 L506.1,661.1 L507.5,661.7 L508.9,662.2 L510.3,662.8 L511.7,663.3 L513.1,663.9 L514.5,664.4 L515.9,665.0 L517.3,665.6 L518.7,666.2 L520.0,666.8 L521.4,667.4 L522.8,668.0 L524.2,668.6 L525.5,669.3 L526.9,669.9 L528.2,670.6 L529.6,671.2 L530.9,671.9 L532.3,672.6 L533.6,673.2 L535.0,673.9 L536.3,674.6 L537.6,675.3 L538.9,676.1 L540.3,676.8 L541.6,677.5 L542.9,678.3 L544.2,679.0 L545.5,679.8 L546.8,680.5 L548.0,681.3 L549.3,682.1 L550.6,682.9 L551.9,683.7 L553.1,684.5 L554.4,685.3 L555.6,686.2 L556.9,687.0 L558.1,687.8 L559.3,688.7 L560.6,689.6 L561.8,690.4 L563.0,691.3 L564.2,692.2 L565.4,693.1 L566.6,694.0 L567.8,695.0 L569.0,695.9 L570.1,696.8 L571.3,697.8 L572.4,698.8 L573.6,699.7 L574.7,700.7 L575.9,701.7 L577.0,702.7"/>
</g>
<text transform="translate(91.6,281.0) scale(1.0,1.05)" font-size="16.6" text-anchor="end">1</text><text transform="translate(599.3,281.0) scale(1.0,1.05)" font-size="16.6">1</text>
<text transform="translate(86.6,308.5) scale(1.0,1.05)" font-size="16.6" text-anchor="end">10</text><text transform="translate(92.4,294.7) scale(0.95,1.05)" font-size="14.0">-1</text><text transform="translate(594.8,308.5) scale(1.0,1.05)" font-size="16.6">10</text><text transform="translate(622.6,294.7) scale(0.95,1.05)" font-size="14.0">-1</text>
<text transform="translate(86.6,363.2) scale(1.0,1.05)" font-size="16.6" text-anchor="end">10</text><text transform="translate(92.4,349.4) scale(0.95,1.05)" font-size="14.0">-3</text><text transform="translate(594.8,363.2) scale(1.0,1.05)" font-size="16.6">10</text><text transform="translate(622.6,349.4) scale(0.95,1.05)" font-size="14.0">-3</text>
<text transform="translate(86.6,417.9) scale(1.0,1.05)" font-size="16.6" text-anchor="end">10</text><text transform="translate(92.4,404.1) scale(0.95,1.05)" font-size="14.0">-5</text><text transform="translate(594.8,417.9) scale(1.0,1.05)" font-size="16.6">10</text><text transform="translate(622.6,404.1) scale(0.95,1.05)" font-size="14.0">-5</text>
<text transform="translate(86.6,472.6) scale(1.0,1.05)" font-size="16.6" text-anchor="end">10</text><text transform="translate(92.4,458.8) scale(0.95,1.05)" font-size="14.0">-7</text><text transform="translate(594.8,472.6) scale(1.0,1.05)" font-size="16.6">10</text><text transform="translate(622.6,458.8) scale(0.95,1.05)" font-size="14.0">-7</text>
<text transform="translate(86.6,527.3) scale(1.0,1.05)" font-size="16.6" text-anchor="end">10</text><text transform="translate(92.4,513.5) scale(0.95,1.05)" font-size="14.0">-9</text><text transform="translate(594.8,527.3) scale(1.0,1.05)" font-size="16.6">10</text><text transform="translate(622.6,513.5) scale(0.95,1.05)" font-size="14.0">-9</text>
<text transform="translate(80.7,582.0) scale(1.0,1.05)" font-size="16.6" text-anchor="end">10</text><text transform="translate(85.3,568.2) scale(0.95,1.05)" font-size="14.0">-11</text><text transform="translate(588.9,582.0) scale(1.0,1.05)" font-size="16.6">10</text><text transform="translate(622.6,568.2) scale(0.95,1.05)" font-size="14.0">-11</text>
<text transform="translate(80.7,636.7) scale(1.0,1.05)" font-size="16.6" text-anchor="end">10</text><text transform="translate(85.3,622.9) scale(0.95,1.05)" font-size="14.0">-13</text><text transform="translate(588.9,636.7) scale(1.0,1.05)" font-size="16.6">10</text><text transform="translate(622.6,622.9) scale(0.95,1.05)" font-size="14.0">-13</text>
<text transform="translate(80.7,691.4) scale(1.0,1.05)" font-size="16.6" text-anchor="end">10</text><text transform="translate(85.3,677.6) scale(0.95,1.05)" font-size="14.0">-15</text><text transform="translate(588.9,691.4) scale(1.0,1.05)" font-size="16.6">10</text><text transform="translate(622.6,677.6) scale(0.95,1.05)" font-size="14.0">-15</text>
<text transform="translate(80.7,746.1) scale(1.0,1.05)" font-size="16.6" text-anchor="end">10</text><text transform="translate(85.3,732.3) scale(0.95,1.05)" font-size="14.0">-17</text><text transform="translate(588.9,746.1) scale(1.0,1.05)" font-size="16.6">10</text><text transform="translate(622.6,732.3) scale(0.95,1.05)" font-size="14.0">-17</text>
<text transform="translate(80.7,800.8) scale(1.0,1.05)" font-size="16.6" text-anchor="end">10</text><text transform="translate(85.3,787.0) scale(0.95,1.05)" font-size="14.0">-19</text><text transform="translate(588.9,800.8) scale(1.0,1.05)" font-size="16.6">10</text><text transform="translate(622.6,787.0) scale(0.95,1.05)" font-size="14.0">-19</text>
<text transform="translate(80.7,855.5) scale(1.0,1.05)" font-size="16.6" text-anchor="end">10</text><text transform="translate(85.3,841.7) scale(0.95,1.05)" font-size="14.0">-21</text><text transform="translate(588.9,855.5) scale(1.0,1.05)" font-size="16.6">10</text><text transform="translate(622.6,841.7) scale(0.95,1.05)" font-size="14.0">-21</text>
<text transform="translate(80.7,910.2) scale(1.0,1.05)" font-size="16.6" text-anchor="end">10</text><text transform="translate(85.3,896.4) scale(0.95,1.05)" font-size="14.0">-23</text><text transform="translate(588.9,910.2) scale(1.0,1.05)" font-size="16.6">10</text><text transform="translate(622.6,896.4) scale(0.95,1.05)" font-size="14.0">-23</text>
<text transform="translate(80.7,964.9) scale(1.0,1.05)" font-size="16.6" text-anchor="end">10</text><text transform="translate(85.3,951.1) scale(0.95,1.05)" font-size="14.0">-25</text><text transform="translate(588.9,964.9) scale(1.0,1.05)" font-size="16.6">10</text><text transform="translate(622.6,951.1) scale(0.95,1.05)" font-size="14.0">-25</text>
<text transform="translate(269.0,251.5) scale(1.0,1.05)" font-size="16.6" text-anchor="middle">10</text><text transform="translate(280.0,240.1) scale(0.95,1.05)" font-size="14.0">2</text>
<text transform="translate(269.0,1001.9) scale(1.0,1.05)" font-size="16.6" text-anchor="middle">10</text><text transform="translate(280.0,990.1) scale(0.95,1.05)" font-size="14.0">2</text>
<text transform="translate(422.8,251.5) scale(1.0,1.05)" font-size="16.6" text-anchor="middle">10</text><text transform="translate(433.8,240.1) scale(0.95,1.05)" font-size="14.0">3</text>
<text transform="translate(422.8,1001.9) scale(1.0,1.05)" font-size="16.6" text-anchor="middle">10</text><text transform="translate(433.8,990.1) scale(0.95,1.05)" font-size="14.0">3</text>
<text transform="translate(576.5,251.5) scale(1.0,1.05)" font-size="16.6" text-anchor="middle">10</text><text transform="translate(587.5,240.1) scale(0.95,1.05)" font-size="14.0">4</text>
<text transform="translate(576.5,1001.9) scale(1.0,1.05)" font-size="16.6" text-anchor="middle">10</text><text transform="translate(587.5,990.1) scale(0.95,1.05)" font-size="14.0">4</text>
<text transform="translate(278.2,197.2) scale(1,1.04)" font-size="22.1"><tspan style="font-weight:normal">Ω</tspan><tspan dy="7.6" dx="0.5" font-size="16">B</tspan><tspan dy="-7.6">h</tspan><tspan dy="-9.6" dx="1" font-size="15.5">2</tspan><tspan dy="9.6">=WMAP</tspan></text>
<text transform="translate(576.3,1051.7) scale(1.0,1.02)" font-size="22.9" text-anchor="end">Time (s)</text>
<text transform="translate(39.3,400.4) rotate(-90) scale(1,1.03)" font-size="22.75">Mass fraction</text>
<text transform="translate(315.7,292.1) scale(1.0,1.05)" font-size="22.4" fill="#ff0000">p</text>
<text transform="translate(223.0,316.8) scale(1.0,1.05)" font-size="22.4" fill="#000000">n</text>
<text transform="translate(468.5,310.3) scale(1.0,1.05)" font-size="16.0" fill="#0000ff">4</text><text transform="translate(477.0,321.5) scale(1.0,1.05)" font-size="22.4" fill="#0000ff">He</text>
<text transform="translate(408.0,371.0) scale(1.0,1.05)" font-size="16.0" fill="#ff0000">2</text><text transform="translate(416.0,382.2) scale(1.0,1.05)" font-size="22.4" fill="#ff0000">H</text>
<text transform="translate(422.6,428.2) scale(1.0,1.05)" font-size="16.0" fill="#ff0000">3</text><text transform="translate(430.6,439.4) scale(1.0,1.05)" font-size="22.4" fill="#ff0000">H</text>
<text transform="translate(468.5,420.6) scale(1.0,1.05)" font-size="16.0" fill="#0000ff">3</text><text transform="translate(477.0,431.8) scale(1.0,1.05)" font-size="22.4" fill="#0000ff">He</text>
<text transform="translate(280.7,538.0) scale(1.0,1.05)" font-size="16.0" fill="#00ff00">7</text><text transform="translate(289.2,549.2) scale(1.0,1.05)" font-size="22.4" fill="#00ff00">Li</text>
<text transform="translate(361.5,565.5) scale(1.0,1.05)" font-size="16.0" fill="#ff00ff">7</text><text transform="translate(369.8,576.7) scale(1.0,1.05)" font-size="22.4" fill="#ff00ff">Be</text>
<text transform="translate(422.6,611.4) scale(1.0,1.05)" font-size="16.0" fill="#00ff00">6</text><text transform="translate(430.6,622.6) scale(1.0,1.05)" font-size="22.4" fill="#00ff00">Li</text>
<text transform="translate(377.6,661.0) scale(1.0,1.05)" font-size="16.0" fill="#000000">11</text><text transform="translate(392.1,672.2) scale(1.0,1.05)" font-size="22.4" fill="#000000">C</text>
<text transform="translate(423.1,688.3) scale(1.0,1.05)" font-size="16.0" fill="#00ffff">11</text><text transform="translate(438.5,699.5) scale(1.0,1.05)" font-size="22.4" fill="#00ffff">B</text>
<text transform="translate(515.9,729.1) scale(1.0,1.05)" font-size="16.0" fill="#ff00ff">9</text><text transform="translate(523.3,740.3) scale(1.0,1.05)" font-size="22.4" fill="#ff00ff">Be</text>
<text transform="translate(469.8,770.2) scale(1.0,1.05)" font-size="16.0" fill="#00ffff">10</text><text transform="translate(484.9,781.4) scale(1.0,1.05)" font-size="22.4" fill="#00ffff">B</text>
<text transform="translate(422.6,811.5) scale(1.0,1.05)" font-size="16.0" fill="#00ff00">8</text><text transform="translate(430.6,822.7) scale(1.0,1.05)" font-size="22.4" fill="#00ff00">Li</text>
<text transform="translate(462.4,846.5) scale(1.0,1.05)" font-size="16.0" fill="#00ffff">8</text><text transform="translate(469.8,857.7) scale(1.0,1.05)" font-size="22.4" fill="#00ffff">B</text>
<text transform="translate(507.4,895.6) scale(1.0,1.05)" font-size="16.0" fill="#ff00ff">10</text><text transform="translate(522.8,906.8) scale(1.0,1.05)" font-size="22.4" fill="#ff00ff">Be</text>
<text transform="translate(416.8,921.5) scale(1.0,1.05)" font-size="16.0" fill="#00ffff">12</text><text transform="translate(431.4,932.7) scale(1.0,1.05)" font-size="22.4" fill="#00ffff">B</text>
<text transform="translate(335.3,877.1) scale(1.0,1.05)" font-size="16.0" fill="#00ff00">9</text><text transform="translate(343.4,888.3) scale(1.0,1.05)" font-size="22.4" fill="#00ff00">Li</text>
<text transform="translate(331.8,901.3) scale(1.0,1.05)" font-size="16.0" fill="#00ffff">13</text><text transform="translate(346.3,912.5) scale(1.0,1.05)" font-size="22.4" fill="#00ffff">B</text>
</svg>
</body></html>
